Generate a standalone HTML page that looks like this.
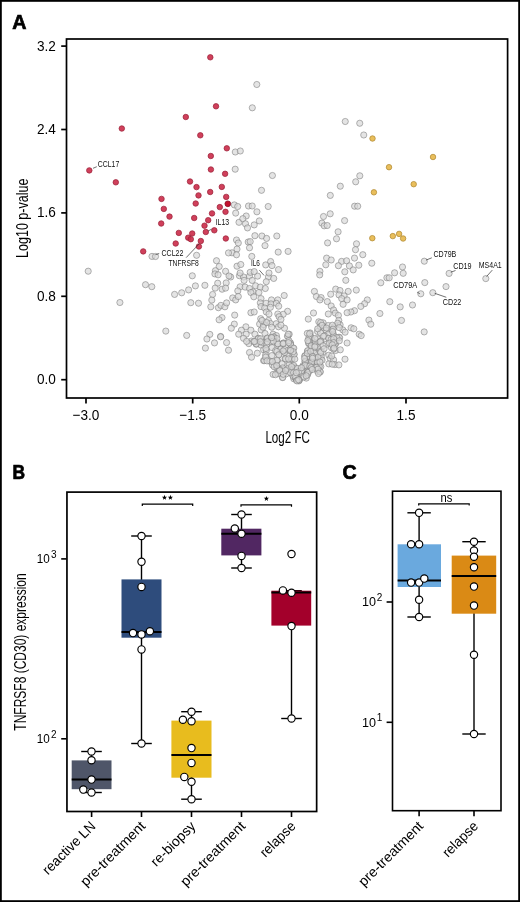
<!DOCTYPE html><html><head><meta charset="utf-8"><style>html,body{margin:0;padding:0;background:#fff}svg{display:block;will-change:transform}text{font-family:"Liberation Sans", sans-serif}</style></head><body>
<svg width="520" height="902" viewBox="0 0 520 902">
<rect x="0" y="0" width="520" height="902" fill="#fff"/>
<rect x="0.9" y="0.9" width="518.2" height="900.2" fill="none" stroke="#000" stroke-width="1.8"/>
<text x="12.2" y="28.8" font-size="19.5" font-weight="bold" fill="#000" stroke="#000" stroke-width="0.7" textLength="14.2" lengthAdjust="spacingAndGlyphs">A</text>
<g stroke-width="0.8">
<circle cx="256.8" cy="84.5" r="3.1" fill="#d8d8d8" stroke="#7a7a7a" fill-opacity="0.7" stroke-opacity="0.7"/>
<circle cx="252.3" cy="107.8" r="3.1" fill="#d8d8d8" stroke="#7a7a7a" fill-opacity="0.7" stroke-opacity="0.7"/>
<circle cx="235.3" cy="152" r="3.1" fill="#d8d8d8" stroke="#7a7a7a" fill-opacity="0.7" stroke-opacity="0.7"/>
<circle cx="240.3" cy="151" r="3.1" fill="#d8d8d8" stroke="#7a7a7a" fill-opacity="0.7" stroke-opacity="0.7"/>
<circle cx="345.25" cy="121.5" r="3.1" fill="#d8d8d8" stroke="#7a7a7a" fill-opacity="0.7" stroke-opacity="0.7"/>
<circle cx="359.75" cy="123.25" r="3.1" fill="#d8d8d8" stroke="#7a7a7a" fill-opacity="0.7" stroke-opacity="0.7"/>
<circle cx="363.75" cy="135" r="3.1" fill="#d8d8d8" stroke="#7a7a7a" fill-opacity="0.7" stroke-opacity="0.7"/>
<circle cx="152" cy="256.4" r="3.1" fill="#d8d8d8" stroke="#7a7a7a" fill-opacity="0.7" stroke-opacity="0.7"/>
<circle cx="155.5" cy="256.5" r="3.1" fill="#d8d8d8" stroke="#7a7a7a" fill-opacity="0.7" stroke-opacity="0.7"/>
<circle cx="235.2" cy="169.2" r="3.1" fill="#d8d8d8" stroke="#7a7a7a" fill-opacity="0.7" stroke-opacity="0.7"/>
<circle cx="234.3" cy="204.9" r="3.1" fill="#d8d8d8" stroke="#7a7a7a" fill-opacity="0.7" stroke-opacity="0.7"/>
<circle cx="237.7" cy="206.5" r="3.1" fill="#d8d8d8" stroke="#7a7a7a" fill-opacity="0.7" stroke-opacity="0.7"/>
<circle cx="235.7" cy="213.1" r="3.1" fill="#d8d8d8" stroke="#7a7a7a" fill-opacity="0.7" stroke-opacity="0.7"/>
<circle cx="239" cy="222.3" r="3.1" fill="#d8d8d8" stroke="#7a7a7a" fill-opacity="0.7" stroke-opacity="0.7"/>
<circle cx="236.5" cy="240" r="3.1" fill="#d8d8d8" stroke="#7a7a7a" fill-opacity="0.7" stroke-opacity="0.7"/>
<circle cx="196.6" cy="255.3" r="3.1" fill="#d8d8d8" stroke="#7a7a7a" fill-opacity="0.7" stroke-opacity="0.7"/>
<circle cx="216.5" cy="260.7" r="3.1" fill="#d8d8d8" stroke="#7a7a7a" fill-opacity="0.7" stroke-opacity="0.7"/>
<circle cx="219.2" cy="266.5" r="3.1" fill="#d8d8d8" stroke="#7a7a7a" fill-opacity="0.7" stroke-opacity="0.7"/>
<circle cx="215.4" cy="270.7" r="3.1" fill="#d8d8d8" stroke="#7a7a7a" fill-opacity="0.7" stroke-opacity="0.7"/>
<circle cx="214.9" cy="273.9" r="3.1" fill="#d8d8d8" stroke="#7a7a7a" fill-opacity="0.7" stroke-opacity="0.7"/>
<circle cx="192.3" cy="275.8" r="3.1" fill="#d8d8d8" stroke="#7a7a7a" fill-opacity="0.7" stroke-opacity="0.7"/>
<circle cx="217.7" cy="283.2" r="3.1" fill="#d8d8d8" stroke="#7a7a7a" fill-opacity="0.7" stroke-opacity="0.7"/>
<circle cx="145.5" cy="284.7" r="3.1" fill="#d8d8d8" stroke="#7a7a7a" fill-opacity="0.7" stroke-opacity="0.7"/>
<circle cx="151.8" cy="286.7" r="3.1" fill="#d8d8d8" stroke="#7a7a7a" fill-opacity="0.7" stroke-opacity="0.7"/>
<circle cx="204.9" cy="285.3" r="3.1" fill="#d8d8d8" stroke="#7a7a7a" fill-opacity="0.7" stroke-opacity="0.7"/>
<circle cx="195.4" cy="285.9" r="3.1" fill="#d8d8d8" stroke="#7a7a7a" fill-opacity="0.7" stroke-opacity="0.7"/>
<circle cx="215.2" cy="288.1" r="3.1" fill="#d8d8d8" stroke="#7a7a7a" fill-opacity="0.7" stroke-opacity="0.7"/>
<circle cx="188.6" cy="289.9" r="3.1" fill="#d8d8d8" stroke="#7a7a7a" fill-opacity="0.7" stroke-opacity="0.7"/>
<circle cx="181.7" cy="292.8" r="3.1" fill="#d8d8d8" stroke="#7a7a7a" fill-opacity="0.7" stroke-opacity="0.7"/>
<circle cx="174.6" cy="294.4" r="3.1" fill="#d8d8d8" stroke="#7a7a7a" fill-opacity="0.7" stroke-opacity="0.7"/>
<circle cx="212.6" cy="294.5" r="3.1" fill="#d8d8d8" stroke="#7a7a7a" fill-opacity="0.7" stroke-opacity="0.7"/>
<circle cx="211.8" cy="300.1" r="3.1" fill="#d8d8d8" stroke="#7a7a7a" fill-opacity="0.7" stroke-opacity="0.7"/>
<circle cx="190.8" cy="302.7" r="3.1" fill="#d8d8d8" stroke="#7a7a7a" fill-opacity="0.7" stroke-opacity="0.7"/>
<circle cx="198.5" cy="303.2" r="3.1" fill="#d8d8d8" stroke="#7a7a7a" fill-opacity="0.7" stroke-opacity="0.7"/>
<circle cx="272.4" cy="175.5" r="3.1" fill="#d8d8d8" stroke="#7a7a7a" fill-opacity="0.7" stroke-opacity="0.7"/>
<circle cx="261.5" cy="190.3" r="3.1" fill="#d8d8d8" stroke="#7a7a7a" fill-opacity="0.7" stroke-opacity="0.7"/>
<circle cx="248.5" cy="206" r="3.1" fill="#d8d8d8" stroke="#7a7a7a" fill-opacity="0.7" stroke-opacity="0.7"/>
<circle cx="252.2" cy="206" r="3.1" fill="#d8d8d8" stroke="#7a7a7a" fill-opacity="0.7" stroke-opacity="0.7"/>
<circle cx="268.2" cy="206.5" r="3.1" fill="#d8d8d8" stroke="#7a7a7a" fill-opacity="0.7" stroke-opacity="0.7"/>
<circle cx="256.9" cy="211.8" r="3.1" fill="#d8d8d8" stroke="#7a7a7a" fill-opacity="0.7" stroke-opacity="0.7"/>
<circle cx="359.8" cy="175.8" r="3.1" fill="#d8d8d8" stroke="#7a7a7a" fill-opacity="0.7" stroke-opacity="0.7"/>
<circle cx="355.7" cy="181.8" r="3.1" fill="#d8d8d8" stroke="#7a7a7a" fill-opacity="0.7" stroke-opacity="0.7"/>
<circle cx="340.3" cy="186.2" r="3.1" fill="#d8d8d8" stroke="#7a7a7a" fill-opacity="0.7" stroke-opacity="0.7"/>
<circle cx="330.3" cy="195.4" r="3.1" fill="#d8d8d8" stroke="#7a7a7a" fill-opacity="0.7" stroke-opacity="0.7"/>
<circle cx="354.6" cy="206.2" r="3.1" fill="#d8d8d8" stroke="#7a7a7a" fill-opacity="0.7" stroke-opacity="0.7"/>
<circle cx="357.7" cy="206.2" r="3.1" fill="#d8d8d8" stroke="#7a7a7a" fill-opacity="0.7" stroke-opacity="0.7"/>
<circle cx="330.2" cy="213.8" r="3.1" fill="#d8d8d8" stroke="#7a7a7a" fill-opacity="0.7" stroke-opacity="0.7"/>
<circle cx="323.5" cy="216.5" r="3.1" fill="#d8d8d8" stroke="#7a7a7a" fill-opacity="0.7" stroke-opacity="0.7"/>
<circle cx="344.6" cy="220.6" r="3.1" fill="#d8d8d8" stroke="#7a7a7a" fill-opacity="0.7" stroke-opacity="0.7"/>
<circle cx="362.8" cy="254.7" r="3.1" fill="#d8d8d8" stroke="#7a7a7a" fill-opacity="0.7" stroke-opacity="0.7"/>
<circle cx="371.8" cy="263.2" r="3.1" fill="#d8d8d8" stroke="#7a7a7a" fill-opacity="0.7" stroke-opacity="0.7"/>
<circle cx="424.3" cy="261.2" r="3.1" fill="#d8d8d8" stroke="#7a7a7a" fill-opacity="0.7" stroke-opacity="0.7"/>
<circle cx="402.5" cy="267" r="3.1" fill="#d8d8d8" stroke="#7a7a7a" fill-opacity="0.7" stroke-opacity="0.7"/>
<circle cx="394.6" cy="272.8" r="3.1" fill="#d8d8d8" stroke="#7a7a7a" fill-opacity="0.7" stroke-opacity="0.7"/>
<circle cx="403.2" cy="273.3" r="3.1" fill="#d8d8d8" stroke="#7a7a7a" fill-opacity="0.7" stroke-opacity="0.7"/>
<circle cx="386.9" cy="277.8" r="3.1" fill="#d8d8d8" stroke="#7a7a7a" fill-opacity="0.7" stroke-opacity="0.7"/>
<circle cx="389.2" cy="277.8" r="3.1" fill="#d8d8d8" stroke="#7a7a7a" fill-opacity="0.7" stroke-opacity="0.7"/>
<circle cx="380.8" cy="282.8" r="3.1" fill="#d8d8d8" stroke="#7a7a7a" fill-opacity="0.7" stroke-opacity="0.7"/>
<circle cx="424.8" cy="282.6" r="3.1" fill="#d8d8d8" stroke="#7a7a7a" fill-opacity="0.7" stroke-opacity="0.7"/>
<circle cx="420.8" cy="293.8" r="3.1" fill="#d8d8d8" stroke="#7a7a7a" fill-opacity="0.7" stroke-opacity="0.7"/>
<circle cx="432.8" cy="292.7" r="3.1" fill="#d8d8d8" stroke="#7a7a7a" fill-opacity="0.7" stroke-opacity="0.7"/>
<circle cx="449.1" cy="273.4" r="3.1" fill="#d8d8d8" stroke="#7a7a7a" fill-opacity="0.7" stroke-opacity="0.7"/>
<circle cx="485.8" cy="278.6" r="3.1" fill="#d8d8d8" stroke="#7a7a7a" fill-opacity="0.7" stroke-opacity="0.7"/>
<circle cx="446" cy="286.6" r="3.1" fill="#d8d8d8" stroke="#7a7a7a" fill-opacity="0.7" stroke-opacity="0.7"/>
<circle cx="389.8" cy="301.7" r="3.1" fill="#d8d8d8" stroke="#7a7a7a" fill-opacity="0.7" stroke-opacity="0.7"/>
<circle cx="400.2" cy="306.9" r="3.1" fill="#d8d8d8" stroke="#7a7a7a" fill-opacity="0.7" stroke-opacity="0.7"/>
<circle cx="412.5" cy="305" r="3.1" fill="#d8d8d8" stroke="#7a7a7a" fill-opacity="0.7" stroke-opacity="0.7"/>
<circle cx="321.9" cy="223.1" r="3.1" fill="#d8d8d8" stroke="#7a7a7a" fill-opacity="0.7" stroke-opacity="0.7"/>
<circle cx="324.2" cy="225.8" r="3.1" fill="#d8d8d8" stroke="#7a7a7a" fill-opacity="0.7" stroke-opacity="0.7"/>
<circle cx="327.2" cy="225.5" r="3.1" fill="#d8d8d8" stroke="#7a7a7a" fill-opacity="0.7" stroke-opacity="0.7"/>
<circle cx="338.1" cy="231.8" r="3.1" fill="#d8d8d8" stroke="#7a7a7a" fill-opacity="0.7" stroke-opacity="0.7"/>
<circle cx="336.5" cy="238.8" r="3.1" fill="#d8d8d8" stroke="#7a7a7a" fill-opacity="0.7" stroke-opacity="0.7"/>
<circle cx="327.6" cy="242.9" r="3.1" fill="#d8d8d8" stroke="#7a7a7a" fill-opacity="0.7" stroke-opacity="0.7"/>
<circle cx="356.5" cy="243.8" r="3.1" fill="#d8d8d8" stroke="#7a7a7a" fill-opacity="0.7" stroke-opacity="0.7"/>
<circle cx="355.5" cy="249.7" r="3.1" fill="#d8d8d8" stroke="#7a7a7a" fill-opacity="0.7" stroke-opacity="0.7"/>
<circle cx="354.5" cy="258.1" r="3.1" fill="#d8d8d8" stroke="#7a7a7a" fill-opacity="0.7" stroke-opacity="0.7"/>
<circle cx="326.6" cy="258.1" r="3.1" fill="#d8d8d8" stroke="#7a7a7a" fill-opacity="0.7" stroke-opacity="0.7"/>
<circle cx="331.2" cy="260" r="3.1" fill="#d8d8d8" stroke="#7a7a7a" fill-opacity="0.7" stroke-opacity="0.7"/>
<circle cx="341.6" cy="261.4" r="3.1" fill="#d8d8d8" stroke="#7a7a7a" fill-opacity="0.7" stroke-opacity="0.7"/>
<circle cx="346.6" cy="260.8" r="3.1" fill="#d8d8d8" stroke="#7a7a7a" fill-opacity="0.7" stroke-opacity="0.7"/>
<circle cx="325.8" cy="264.8" r="3.1" fill="#d8d8d8" stroke="#7a7a7a" fill-opacity="0.7" stroke-opacity="0.7"/>
<circle cx="338.4" cy="265.7" r="3.1" fill="#d8d8d8" stroke="#7a7a7a" fill-opacity="0.7" stroke-opacity="0.7"/>
<circle cx="349.4" cy="265.9" r="3.1" fill="#d8d8d8" stroke="#7a7a7a" fill-opacity="0.7" stroke-opacity="0.7"/>
<circle cx="358.8" cy="265.2" r="3.1" fill="#d8d8d8" stroke="#7a7a7a" fill-opacity="0.7" stroke-opacity="0.7"/>
<circle cx="353.2" cy="269.9" r="3.1" fill="#d8d8d8" stroke="#7a7a7a" fill-opacity="0.7" stroke-opacity="0.7"/>
<circle cx="344.8" cy="271.8" r="3.1" fill="#d8d8d8" stroke="#7a7a7a" fill-opacity="0.7" stroke-opacity="0.7"/>
<circle cx="319.9" cy="271.3" r="3.1" fill="#d8d8d8" stroke="#7a7a7a" fill-opacity="0.7" stroke-opacity="0.7"/>
<circle cx="319.7" cy="274.9" r="3.1" fill="#d8d8d8" stroke="#7a7a7a" fill-opacity="0.7" stroke-opacity="0.7"/>
<circle cx="345.8" cy="280.3" r="3.1" fill="#d8d8d8" stroke="#7a7a7a" fill-opacity="0.7" stroke-opacity="0.7"/>
<circle cx="314.4" cy="291.4" r="3.1" fill="#d8d8d8" stroke="#7a7a7a" fill-opacity="0.7" stroke-opacity="0.7"/>
<circle cx="335.7" cy="289.1" r="3.1" fill="#d8d8d8" stroke="#7a7a7a" fill-opacity="0.7" stroke-opacity="0.7"/>
<circle cx="340" cy="290.5" r="3.1" fill="#d8d8d8" stroke="#7a7a7a" fill-opacity="0.7" stroke-opacity="0.7"/>
<circle cx="348.2" cy="291.4" r="3.1" fill="#d8d8d8" stroke="#7a7a7a" fill-opacity="0.7" stroke-opacity="0.7"/>
<circle cx="356.3" cy="290.1" r="3.1" fill="#d8d8d8" stroke="#7a7a7a" fill-opacity="0.7" stroke-opacity="0.7"/>
<circle cx="330.7" cy="294.2" r="3.1" fill="#d8d8d8" stroke="#7a7a7a" fill-opacity="0.7" stroke-opacity="0.7"/>
<circle cx="339" cy="294.9" r="3.1" fill="#d8d8d8" stroke="#7a7a7a" fill-opacity="0.7" stroke-opacity="0.7"/>
<circle cx="344.1" cy="295.9" r="3.1" fill="#d8d8d8" stroke="#7a7a7a" fill-opacity="0.7" stroke-opacity="0.7"/>
<circle cx="316.4" cy="296.5" r="3.1" fill="#d8d8d8" stroke="#7a7a7a" fill-opacity="0.7" stroke-opacity="0.7"/>
<circle cx="321.1" cy="297.6" r="3.1" fill="#d8d8d8" stroke="#7a7a7a" fill-opacity="0.7" stroke-opacity="0.7"/>
<circle cx="319.9" cy="299.9" r="3.1" fill="#d8d8d8" stroke="#7a7a7a" fill-opacity="0.7" stroke-opacity="0.7"/>
<circle cx="341.7" cy="298.6" r="3.1" fill="#d8d8d8" stroke="#7a7a7a" fill-opacity="0.7" stroke-opacity="0.7"/>
<circle cx="347.1" cy="299.9" r="3.1" fill="#d8d8d8" stroke="#7a7a7a" fill-opacity="0.7" stroke-opacity="0.7"/>
<circle cx="367.3" cy="299.9" r="3.1" fill="#d8d8d8" stroke="#7a7a7a" fill-opacity="0.7" stroke-opacity="0.7"/>
<circle cx="364.6" cy="303.7" r="3.1" fill="#d8d8d8" stroke="#7a7a7a" fill-opacity="0.7" stroke-opacity="0.7"/>
<circle cx="360.8" cy="306.4" r="3.1" fill="#d8d8d8" stroke="#7a7a7a" fill-opacity="0.7" stroke-opacity="0.7"/>
<circle cx="327.3" cy="301.6" r="3.1" fill="#d8d8d8" stroke="#7a7a7a" fill-opacity="0.7" stroke-opacity="0.7"/>
<circle cx="343.1" cy="304.3" r="3.1" fill="#d8d8d8" stroke="#7a7a7a" fill-opacity="0.7" stroke-opacity="0.7"/>
<circle cx="331.2" cy="306" r="3.1" fill="#d8d8d8" stroke="#7a7a7a" fill-opacity="0.7" stroke-opacity="0.7"/>
<circle cx="333.6" cy="310" r="3.1" fill="#d8d8d8" stroke="#7a7a7a" fill-opacity="0.7" stroke-opacity="0.7"/>
<circle cx="354.5" cy="310.7" r="3.1" fill="#d8d8d8" stroke="#7a7a7a" fill-opacity="0.7" stroke-opacity="0.7"/>
<circle cx="350.9" cy="312" r="3.1" fill="#d8d8d8" stroke="#7a7a7a" fill-opacity="0.7" stroke-opacity="0.7"/>
<circle cx="347.1" cy="312.7" r="3.1" fill="#d8d8d8" stroke="#7a7a7a" fill-opacity="0.7" stroke-opacity="0.7"/>
<circle cx="313.5" cy="313" r="3.1" fill="#d8d8d8" stroke="#7a7a7a" fill-opacity="0.7" stroke-opacity="0.7"/>
<circle cx="328.3" cy="314" r="3.1" fill="#d8d8d8" stroke="#7a7a7a" fill-opacity="0.7" stroke-opacity="0.7"/>
<circle cx="335.3" cy="313.1" r="3.1" fill="#d8d8d8" stroke="#7a7a7a" fill-opacity="0.7" stroke-opacity="0.7"/>
<circle cx="338.4" cy="315.4" r="3.1" fill="#d8d8d8" stroke="#7a7a7a" fill-opacity="0.7" stroke-opacity="0.7"/>
<circle cx="308.3" cy="319.1" r="3.1" fill="#d8d8d8" stroke="#7a7a7a" fill-opacity="0.7" stroke-opacity="0.7"/>
<circle cx="338.8" cy="320.4" r="3.1" fill="#d8d8d8" stroke="#7a7a7a" fill-opacity="0.7" stroke-opacity="0.7"/>
<circle cx="368.9" cy="320.1" r="3.1" fill="#d8d8d8" stroke="#7a7a7a" fill-opacity="0.7" stroke-opacity="0.7"/>
<circle cx="318.8" cy="321.8" r="3.1" fill="#d8d8d8" stroke="#7a7a7a" fill-opacity="0.7" stroke-opacity="0.7"/>
<circle cx="323.1" cy="322.8" r="3.1" fill="#d8d8d8" stroke="#7a7a7a" fill-opacity="0.7" stroke-opacity="0.7"/>
<circle cx="340.1" cy="324.8" r="3.1" fill="#d8d8d8" stroke="#7a7a7a" fill-opacity="0.7" stroke-opacity="0.7"/>
<circle cx="328.3" cy="325.5" r="3.1" fill="#d8d8d8" stroke="#7a7a7a" fill-opacity="0.7" stroke-opacity="0.7"/>
<circle cx="334.7" cy="326.4" r="3.1" fill="#d8d8d8" stroke="#7a7a7a" fill-opacity="0.7" stroke-opacity="0.7"/>
<circle cx="320.2" cy="326.8" r="3.1" fill="#d8d8d8" stroke="#7a7a7a" fill-opacity="0.7" stroke-opacity="0.7"/>
<circle cx="324" cy="327.8" r="3.1" fill="#d8d8d8" stroke="#7a7a7a" fill-opacity="0.7" stroke-opacity="0.7"/>
<circle cx="351.1" cy="327.8" r="3.1" fill="#d8d8d8" stroke="#7a7a7a" fill-opacity="0.7" stroke-opacity="0.7"/>
<circle cx="353.8" cy="328.8" r="3.1" fill="#d8d8d8" stroke="#7a7a7a" fill-opacity="0.7" stroke-opacity="0.7"/>
<circle cx="342.8" cy="329.9" r="3.1" fill="#d8d8d8" stroke="#7a7a7a" fill-opacity="0.7" stroke-opacity="0.7"/>
<circle cx="331" cy="329.5" r="3.1" fill="#d8d8d8" stroke="#7a7a7a" fill-opacity="0.7" stroke-opacity="0.7"/>
<circle cx="326.2" cy="330.2" r="3.1" fill="#d8d8d8" stroke="#7a7a7a" fill-opacity="0.7" stroke-opacity="0.7"/>
<circle cx="317.5" cy="331.5" r="3.1" fill="#d8d8d8" stroke="#7a7a7a" fill-opacity="0.7" stroke-opacity="0.7"/>
<circle cx="320.5" cy="332.9" r="3.1" fill="#d8d8d8" stroke="#7a7a7a" fill-opacity="0.7" stroke-opacity="0.7"/>
<circle cx="345.1" cy="332.2" r="3.1" fill="#d8d8d8" stroke="#7a7a7a" fill-opacity="0.7" stroke-opacity="0.7"/>
<circle cx="310.1" cy="332.9" r="3.1" fill="#d8d8d8" stroke="#7a7a7a" fill-opacity="0.7" stroke-opacity="0.7"/>
<circle cx="359.2" cy="334.2" r="3.1" fill="#d8d8d8" stroke="#7a7a7a" fill-opacity="0.7" stroke-opacity="0.7"/>
<circle cx="361.2" cy="335.6" r="3.1" fill="#d8d8d8" stroke="#7a7a7a" fill-opacity="0.7" stroke-opacity="0.7"/>
<circle cx="333.4" cy="334.2" r="3.1" fill="#d8d8d8" stroke="#7a7a7a" fill-opacity="0.7" stroke-opacity="0.7"/>
<circle cx="328.3" cy="334.2" r="3.1" fill="#d8d8d8" stroke="#7a7a7a" fill-opacity="0.7" stroke-opacity="0.7"/>
<circle cx="324.5" cy="335.8" r="3.1" fill="#d8d8d8" stroke="#7a7a7a" fill-opacity="0.7" stroke-opacity="0.7"/>
<circle cx="310.8" cy="336.6" r="3.1" fill="#d8d8d8" stroke="#7a7a7a" fill-opacity="0.7" stroke-opacity="0.7"/>
<circle cx="339" cy="337.2" r="3.1" fill="#d8d8d8" stroke="#7a7a7a" fill-opacity="0.7" stroke-opacity="0.7"/>
<circle cx="328.5" cy="338.3" r="3.1" fill="#d8d8d8" stroke="#7a7a7a" fill-opacity="0.7" stroke-opacity="0.7"/>
<circle cx="308.7" cy="340.3" r="3.1" fill="#d8d8d8" stroke="#7a7a7a" fill-opacity="0.7" stroke-opacity="0.7"/>
<circle cx="320.9" cy="341" r="3.1" fill="#d8d8d8" stroke="#7a7a7a" fill-opacity="0.7" stroke-opacity="0.7"/>
<circle cx="347.1" cy="343" r="3.1" fill="#d8d8d8" stroke="#7a7a7a" fill-opacity="0.7" stroke-opacity="0.7"/>
<circle cx="332" cy="342.3" r="3.1" fill="#d8d8d8" stroke="#7a7a7a" fill-opacity="0.7" stroke-opacity="0.7"/>
<circle cx="313.5" cy="343" r="3.1" fill="#d8d8d8" stroke="#7a7a7a" fill-opacity="0.7" stroke-opacity="0.7"/>
<circle cx="335.7" cy="343.6" r="3.1" fill="#d8d8d8" stroke="#7a7a7a" fill-opacity="0.7" stroke-opacity="0.7"/>
<circle cx="239.4" cy="275.7" r="3.1" fill="#d8d8d8" stroke="#7a7a7a" fill-opacity="0.7" stroke-opacity="0.7"/>
<circle cx="243.5" cy="277" r="3.1" fill="#d8d8d8" stroke="#7a7a7a" fill-opacity="0.7" stroke-opacity="0.7"/>
<circle cx="249.5" cy="276.1" r="3.1" fill="#d8d8d8" stroke="#7a7a7a" fill-opacity="0.7" stroke-opacity="0.7"/>
<circle cx="257.6" cy="276.1" r="3.1" fill="#d8d8d8" stroke="#7a7a7a" fill-opacity="0.7" stroke-opacity="0.7"/>
<circle cx="252.2" cy="280.4" r="3.1" fill="#d8d8d8" stroke="#7a7a7a" fill-opacity="0.7" stroke-opacity="0.7"/>
<circle cx="268.4" cy="277" r="3.1" fill="#d8d8d8" stroke="#7a7a7a" fill-opacity="0.7" stroke-opacity="0.7"/>
<circle cx="273.7" cy="278.4" r="3.1" fill="#d8d8d8" stroke="#7a7a7a" fill-opacity="0.7" stroke-opacity="0.7"/>
<circle cx="266.3" cy="281.7" r="3.1" fill="#d8d8d8" stroke="#7a7a7a" fill-opacity="0.7" stroke-opacity="0.7"/>
<circle cx="244.1" cy="280.4" r="3.1" fill="#d8d8d8" stroke="#7a7a7a" fill-opacity="0.7" stroke-opacity="0.7"/>
<circle cx="230.7" cy="277" r="3.1" fill="#d8d8d8" stroke="#7a7a7a" fill-opacity="0.7" stroke-opacity="0.7"/>
<circle cx="240.1" cy="286.8" r="3.1" fill="#d8d8d8" stroke="#7a7a7a" fill-opacity="0.7" stroke-opacity="0.7"/>
<circle cx="237.8" cy="290.9" r="3.1" fill="#d8d8d8" stroke="#7a7a7a" fill-opacity="0.7" stroke-opacity="0.7"/>
<circle cx="245.1" cy="287.1" r="3.1" fill="#d8d8d8" stroke="#7a7a7a" fill-opacity="0.7" stroke-opacity="0.7"/>
<circle cx="249.5" cy="288.5" r="3.1" fill="#d8d8d8" stroke="#7a7a7a" fill-opacity="0.7" stroke-opacity="0.7"/>
<circle cx="255.6" cy="285.8" r="3.1" fill="#d8d8d8" stroke="#7a7a7a" fill-opacity="0.7" stroke-opacity="0.7"/>
<circle cx="260.3" cy="287.1" r="3.1" fill="#d8d8d8" stroke="#7a7a7a" fill-opacity="0.7" stroke-opacity="0.7"/>
<circle cx="265.3" cy="288.5" r="3.1" fill="#d8d8d8" stroke="#7a7a7a" fill-opacity="0.7" stroke-opacity="0.7"/>
<circle cx="252.9" cy="291.8" r="3.1" fill="#d8d8d8" stroke="#7a7a7a" fill-opacity="0.7" stroke-opacity="0.7"/>
<circle cx="250.9" cy="292.5" r="3.1" fill="#d8d8d8" stroke="#7a7a7a" fill-opacity="0.7" stroke-opacity="0.7"/>
<circle cx="258.9" cy="292.5" r="3.1" fill="#d8d8d8" stroke="#7a7a7a" fill-opacity="0.7" stroke-opacity="0.7"/>
<circle cx="284.2" cy="295.5" r="3.1" fill="#d8d8d8" stroke="#7a7a7a" fill-opacity="0.7" stroke-opacity="0.7"/>
<circle cx="232.7" cy="297.9" r="3.1" fill="#d8d8d8" stroke="#7a7a7a" fill-opacity="0.7" stroke-opacity="0.7"/>
<circle cx="235.7" cy="299.9" r="3.1" fill="#d8d8d8" stroke="#7a7a7a" fill-opacity="0.7" stroke-opacity="0.7"/>
<circle cx="238.3" cy="296.5" r="3.1" fill="#d8d8d8" stroke="#7a7a7a" fill-opacity="0.7" stroke-opacity="0.7"/>
<circle cx="253.8" cy="296.8" r="3.1" fill="#d8d8d8" stroke="#7a7a7a" fill-opacity="0.7" stroke-opacity="0.7"/>
<circle cx="261" cy="298.6" r="3.1" fill="#d8d8d8" stroke="#7a7a7a" fill-opacity="0.7" stroke-opacity="0.7"/>
<circle cx="271.5" cy="299.9" r="3.1" fill="#d8d8d8" stroke="#7a7a7a" fill-opacity="0.7" stroke-opacity="0.7"/>
<circle cx="277.8" cy="299.9" r="3.1" fill="#d8d8d8" stroke="#7a7a7a" fill-opacity="0.7" stroke-opacity="0.7"/>
<circle cx="260.3" cy="302.9" r="3.1" fill="#d8d8d8" stroke="#7a7a7a" fill-opacity="0.7" stroke-opacity="0.7"/>
<circle cx="266.1" cy="303.3" r="3.1" fill="#d8d8d8" stroke="#7a7a7a" fill-opacity="0.7" stroke-opacity="0.7"/>
<circle cx="271" cy="303.9" r="3.1" fill="#d8d8d8" stroke="#7a7a7a" fill-opacity="0.7" stroke-opacity="0.7"/>
<circle cx="276.4" cy="303.3" r="3.1" fill="#d8d8d8" stroke="#7a7a7a" fill-opacity="0.7" stroke-opacity="0.7"/>
<circle cx="278.7" cy="306.2" r="3.1" fill="#d8d8d8" stroke="#7a7a7a" fill-opacity="0.7" stroke-opacity="0.7"/>
<circle cx="261" cy="306.6" r="3.1" fill="#d8d8d8" stroke="#7a7a7a" fill-opacity="0.7" stroke-opacity="0.7"/>
<circle cx="264.7" cy="308" r="3.1" fill="#d8d8d8" stroke="#7a7a7a" fill-opacity="0.7" stroke-opacity="0.7"/>
<circle cx="270.4" cy="307.3" r="3.1" fill="#d8d8d8" stroke="#7a7a7a" fill-opacity="0.7" stroke-opacity="0.7"/>
<circle cx="287.6" cy="311.3" r="3.1" fill="#d8d8d8" stroke="#7a7a7a" fill-opacity="0.7" stroke-opacity="0.7"/>
<circle cx="283.2" cy="314.3" r="3.1" fill="#d8d8d8" stroke="#7a7a7a" fill-opacity="0.7" stroke-opacity="0.7"/>
<circle cx="250.9" cy="312.7" r="3.1" fill="#d8d8d8" stroke="#7a7a7a" fill-opacity="0.7" stroke-opacity="0.7"/>
<circle cx="254.2" cy="312" r="3.1" fill="#d8d8d8" stroke="#7a7a7a" fill-opacity="0.7" stroke-opacity="0.7"/>
<circle cx="266.3" cy="312" r="3.1" fill="#d8d8d8" stroke="#7a7a7a" fill-opacity="0.7" stroke-opacity="0.7"/>
<circle cx="269" cy="314" r="3.1" fill="#d8d8d8" stroke="#7a7a7a" fill-opacity="0.7" stroke-opacity="0.7"/>
<circle cx="234.7" cy="315.1" r="3.1" fill="#d8d8d8" stroke="#7a7a7a" fill-opacity="0.7" stroke-opacity="0.7"/>
<circle cx="277.8" cy="314" r="3.1" fill="#d8d8d8" stroke="#7a7a7a" fill-opacity="0.7" stroke-opacity="0.7"/>
<circle cx="279.1" cy="316.7" r="3.1" fill="#d8d8d8" stroke="#7a7a7a" fill-opacity="0.7" stroke-opacity="0.7"/>
<circle cx="280.9" cy="319.4" r="3.1" fill="#d8d8d8" stroke="#7a7a7a" fill-opacity="0.7" stroke-opacity="0.7"/>
<circle cx="260.7" cy="318.7" r="3.1" fill="#d8d8d8" stroke="#7a7a7a" fill-opacity="0.7" stroke-opacity="0.7"/>
<circle cx="268.4" cy="320.5" r="3.1" fill="#d8d8d8" stroke="#7a7a7a" fill-opacity="0.7" stroke-opacity="0.7"/>
<circle cx="234.3" cy="324.1" r="3.1" fill="#d8d8d8" stroke="#7a7a7a" fill-opacity="0.7" stroke-opacity="0.7"/>
<circle cx="259.6" cy="324.1" r="3.1" fill="#d8d8d8" stroke="#7a7a7a" fill-opacity="0.7" stroke-opacity="0.7"/>
<circle cx="263.6" cy="324.8" r="3.1" fill="#d8d8d8" stroke="#7a7a7a" fill-opacity="0.7" stroke-opacity="0.7"/>
<circle cx="270.4" cy="323.5" r="3.1" fill="#d8d8d8" stroke="#7a7a7a" fill-opacity="0.7" stroke-opacity="0.7"/>
<circle cx="276.2" cy="323.7" r="3.1" fill="#d8d8d8" stroke="#7a7a7a" fill-opacity="0.7" stroke-opacity="0.7"/>
<circle cx="271.7" cy="327.2" r="3.1" fill="#d8d8d8" stroke="#7a7a7a" fill-opacity="0.7" stroke-opacity="0.7"/>
<circle cx="278.5" cy="326.8" r="3.1" fill="#d8d8d8" stroke="#7a7a7a" fill-opacity="0.7" stroke-opacity="0.7"/>
<circle cx="284.5" cy="328.2" r="3.1" fill="#d8d8d8" stroke="#7a7a7a" fill-opacity="0.7" stroke-opacity="0.7"/>
<circle cx="245.9" cy="326.8" r="3.1" fill="#d8d8d8" stroke="#7a7a7a" fill-opacity="0.7" stroke-opacity="0.7"/>
<circle cx="231.3" cy="328.2" r="3.1" fill="#d8d8d8" stroke="#7a7a7a" fill-opacity="0.7" stroke-opacity="0.7"/>
<circle cx="250.9" cy="330.2" r="3.1" fill="#d8d8d8" stroke="#7a7a7a" fill-opacity="0.7" stroke-opacity="0.7"/>
<circle cx="241.4" cy="330.2" r="3.1" fill="#d8d8d8" stroke="#7a7a7a" fill-opacity="0.7" stroke-opacity="0.7"/>
<circle cx="261.2" cy="329.9" r="3.1" fill="#d8d8d8" stroke="#7a7a7a" fill-opacity="0.7" stroke-opacity="0.7"/>
<circle cx="238.7" cy="334.2" r="3.1" fill="#d8d8d8" stroke="#7a7a7a" fill-opacity="0.7" stroke-opacity="0.7"/>
<circle cx="246.2" cy="334.2" r="3.1" fill="#d8d8d8" stroke="#7a7a7a" fill-opacity="0.7" stroke-opacity="0.7"/>
<circle cx="254.9" cy="334.2" r="3.1" fill="#d8d8d8" stroke="#7a7a7a" fill-opacity="0.7" stroke-opacity="0.7"/>
<circle cx="265" cy="333.5" r="3.1" fill="#d8d8d8" stroke="#7a7a7a" fill-opacity="0.7" stroke-opacity="0.7"/>
<circle cx="273.1" cy="334.2" r="3.1" fill="#d8d8d8" stroke="#7a7a7a" fill-opacity="0.7" stroke-opacity="0.7"/>
<circle cx="276.4" cy="335.6" r="3.1" fill="#d8d8d8" stroke="#7a7a7a" fill-opacity="0.7" stroke-opacity="0.7"/>
<circle cx="287.9" cy="336.2" r="3.1" fill="#d8d8d8" stroke="#7a7a7a" fill-opacity="0.7" stroke-opacity="0.7"/>
<circle cx="289.2" cy="334.2" r="3.1" fill="#d8d8d8" stroke="#7a7a7a" fill-opacity="0.7" stroke-opacity="0.7"/>
<circle cx="243.5" cy="338.3" r="3.1" fill="#d8d8d8" stroke="#7a7a7a" fill-opacity="0.7" stroke-opacity="0.7"/>
<circle cx="258.3" cy="338.3" r="3.1" fill="#d8d8d8" stroke="#7a7a7a" fill-opacity="0.7" stroke-opacity="0.7"/>
<circle cx="267" cy="338.3" r="3.1" fill="#d8d8d8" stroke="#7a7a7a" fill-opacity="0.7" stroke-opacity="0.7"/>
<circle cx="273.7" cy="337.6" r="3.1" fill="#d8d8d8" stroke="#7a7a7a" fill-opacity="0.7" stroke-opacity="0.7"/>
<circle cx="251.5" cy="341" r="3.1" fill="#d8d8d8" stroke="#7a7a7a" fill-opacity="0.7" stroke-opacity="0.7"/>
<circle cx="261.6" cy="341.6" r="3.1" fill="#d8d8d8" stroke="#7a7a7a" fill-opacity="0.7" stroke-opacity="0.7"/>
<circle cx="270.4" cy="342.3" r="3.1" fill="#d8d8d8" stroke="#7a7a7a" fill-opacity="0.7" stroke-opacity="0.7"/>
<circle cx="277.1" cy="342.3" r="3.1" fill="#d8d8d8" stroke="#7a7a7a" fill-opacity="0.7" stroke-opacity="0.7"/>
<circle cx="248.8" cy="343.6" r="3.1" fill="#d8d8d8" stroke="#7a7a7a" fill-opacity="0.7" stroke-opacity="0.7"/>
<circle cx="283.8" cy="343" r="3.1" fill="#d8d8d8" stroke="#7a7a7a" fill-opacity="0.7" stroke-opacity="0.7"/>
<circle cx="290.6" cy="343" r="3.1" fill="#d8d8d8" stroke="#7a7a7a" fill-opacity="0.7" stroke-opacity="0.7"/>
<circle cx="246.2" cy="216" r="3.1" fill="#d8d8d8" stroke="#7a7a7a" fill-opacity="0.7" stroke-opacity="0.7"/>
<circle cx="242.8" cy="218.7" r="3.1" fill="#d8d8d8" stroke="#7a7a7a" fill-opacity="0.7" stroke-opacity="0.7"/>
<circle cx="245.5" cy="223.8" r="3.1" fill="#d8d8d8" stroke="#7a7a7a" fill-opacity="0.7" stroke-opacity="0.7"/>
<circle cx="247.5" cy="227.9" r="3.1" fill="#d8d8d8" stroke="#7a7a7a" fill-opacity="0.7" stroke-opacity="0.7"/>
<circle cx="259.3" cy="220.9" r="3.1" fill="#d8d8d8" stroke="#7a7a7a" fill-opacity="0.7" stroke-opacity="0.7"/>
<circle cx="254.2" cy="224.9" r="3.1" fill="#d8d8d8" stroke="#7a7a7a" fill-opacity="0.7" stroke-opacity="0.7"/>
<circle cx="254.9" cy="235.7" r="3.1" fill="#d8d8d8" stroke="#7a7a7a" fill-opacity="0.7" stroke-opacity="0.7"/>
<circle cx="261.9" cy="236" r="3.1" fill="#d8d8d8" stroke="#7a7a7a" fill-opacity="0.7" stroke-opacity="0.7"/>
<circle cx="266.6" cy="238.4" r="3.1" fill="#d8d8d8" stroke="#7a7a7a" fill-opacity="0.7" stroke-opacity="0.7"/>
<circle cx="276.8" cy="236" r="3.1" fill="#d8d8d8" stroke="#7a7a7a" fill-opacity="0.7" stroke-opacity="0.7"/>
<circle cx="238.3" cy="243" r="3.1" fill="#d8d8d8" stroke="#7a7a7a" fill-opacity="0.7" stroke-opacity="0.7"/>
<circle cx="248.2" cy="242" r="3.1" fill="#d8d8d8" stroke="#7a7a7a" fill-opacity="0.7" stroke-opacity="0.7"/>
<circle cx="250.2" cy="241.6" r="3.1" fill="#d8d8d8" stroke="#7a7a7a" fill-opacity="0.7" stroke-opacity="0.7"/>
<circle cx="249.5" cy="247.8" r="3.1" fill="#d8d8d8" stroke="#7a7a7a" fill-opacity="0.7" stroke-opacity="0.7"/>
<circle cx="265" cy="245.6" r="3.1" fill="#d8d8d8" stroke="#7a7a7a" fill-opacity="0.7" stroke-opacity="0.7"/>
<circle cx="237" cy="249.1" r="3.1" fill="#d8d8d8" stroke="#7a7a7a" fill-opacity="0.7" stroke-opacity="0.7"/>
<circle cx="232" cy="252.8" r="3.1" fill="#d8d8d8" stroke="#7a7a7a" fill-opacity="0.7" stroke-opacity="0.7"/>
<circle cx="236.5" cy="254.8" r="3.1" fill="#d8d8d8" stroke="#7a7a7a" fill-opacity="0.7" stroke-opacity="0.7"/>
<circle cx="278.2" cy="252.1" r="3.1" fill="#d8d8d8" stroke="#7a7a7a" fill-opacity="0.7" stroke-opacity="0.7"/>
<circle cx="288.1" cy="251.4" r="3.1" fill="#d8d8d8" stroke="#7a7a7a" fill-opacity="0.7" stroke-opacity="0.7"/>
<circle cx="251.8" cy="256.4" r="3.1" fill="#d8d8d8" stroke="#7a7a7a" fill-opacity="0.7" stroke-opacity="0.7"/>
<circle cx="237" cy="266.2" r="3.1" fill="#d8d8d8" stroke="#7a7a7a" fill-opacity="0.7" stroke-opacity="0.7"/>
<circle cx="240.8" cy="264.5" r="3.1" fill="#d8d8d8" stroke="#7a7a7a" fill-opacity="0.7" stroke-opacity="0.7"/>
<circle cx="265.7" cy="264.9" r="3.1" fill="#d8d8d8" stroke="#7a7a7a" fill-opacity="0.7" stroke-opacity="0.7"/>
<circle cx="270.6" cy="261.5" r="3.1" fill="#d8d8d8" stroke="#7a7a7a" fill-opacity="0.7" stroke-opacity="0.7"/>
<circle cx="272" cy="265.6" r="3.1" fill="#d8d8d8" stroke="#7a7a7a" fill-opacity="0.7" stroke-opacity="0.7"/>
<circle cx="278.5" cy="269.6" r="3.1" fill="#d8d8d8" stroke="#7a7a7a" fill-opacity="0.7" stroke-opacity="0.7"/>
<circle cx="240.1" cy="273" r="3.1" fill="#d8d8d8" stroke="#7a7a7a" fill-opacity="0.7" stroke-opacity="0.7"/>
<circle cx="250.2" cy="272.3" r="3.1" fill="#d8d8d8" stroke="#7a7a7a" fill-opacity="0.7" stroke-opacity="0.7"/>
<circle cx="254.2" cy="271.6" r="3.1" fill="#d8d8d8" stroke="#7a7a7a" fill-opacity="0.7" stroke-opacity="0.7"/>
<circle cx="269" cy="273" r="3.1" fill="#d8d8d8" stroke="#7a7a7a" fill-opacity="0.7" stroke-opacity="0.7"/>
<circle cx="210.8" cy="306.8" r="3.1" fill="#d8d8d8" stroke="#7a7a7a" fill-opacity="0.7" stroke-opacity="0.7"/>
<circle cx="218.4" cy="307.7" r="3.1" fill="#d8d8d8" stroke="#7a7a7a" fill-opacity="0.7" stroke-opacity="0.7"/>
<circle cx="220.9" cy="305.4" r="3.1" fill="#d8d8d8" stroke="#7a7a7a" fill-opacity="0.7" stroke-opacity="0.7"/>
<circle cx="224.9" cy="306.8" r="3.1" fill="#d8d8d8" stroke="#7a7a7a" fill-opacity="0.7" stroke-opacity="0.7"/>
<circle cx="226.6" cy="302.9" r="3.1" fill="#d8d8d8" stroke="#7a7a7a" fill-opacity="0.7" stroke-opacity="0.7"/>
<circle cx="222" cy="317.6" r="3.1" fill="#d8d8d8" stroke="#7a7a7a" fill-opacity="0.7" stroke-opacity="0.7"/>
<circle cx="219.1" cy="319.8" r="3.1" fill="#d8d8d8" stroke="#7a7a7a" fill-opacity="0.7" stroke-opacity="0.7"/>
<circle cx="165.8" cy="331.1" r="3.1" fill="#d8d8d8" stroke="#7a7a7a" fill-opacity="0.7" stroke-opacity="0.7"/>
<circle cx="186.7" cy="335.4" r="3.1" fill="#d8d8d8" stroke="#7a7a7a" fill-opacity="0.7" stroke-opacity="0.7"/>
<circle cx="209.8" cy="334.4" r="3.1" fill="#d8d8d8" stroke="#7a7a7a" fill-opacity="0.7" stroke-opacity="0.7"/>
<circle cx="206.9" cy="339" r="3.1" fill="#d8d8d8" stroke="#7a7a7a" fill-opacity="0.7" stroke-opacity="0.7"/>
<circle cx="220.6" cy="336.5" r="3.1" fill="#d8d8d8" stroke="#7a7a7a" fill-opacity="0.7" stroke-opacity="0.7"/>
<circle cx="220.6" cy="336.8" r="3.1" fill="#d8d8d8" stroke="#7a7a7a" fill-opacity="0.7" stroke-opacity="0.7"/>
<circle cx="214.5" cy="342.9" r="3.1" fill="#d8d8d8" stroke="#7a7a7a" fill-opacity="0.7" stroke-opacity="0.7"/>
<circle cx="226.6" cy="342.6" r="3.1" fill="#d8d8d8" stroke="#7a7a7a" fill-opacity="0.7" stroke-opacity="0.7"/>
<circle cx="205.4" cy="348.1" r="3.1" fill="#d8d8d8" stroke="#7a7a7a" fill-opacity="0.7" stroke-opacity="0.7"/>
<circle cx="228.5" cy="350.2" r="3.1" fill="#d8d8d8" stroke="#7a7a7a" fill-opacity="0.7" stroke-opacity="0.7"/>
<circle cx="88.2" cy="271.2" r="3.1" fill="#d8d8d8" stroke="#7a7a7a" fill-opacity="0.7" stroke-opacity="0.7"/>
<circle cx="119.9" cy="302.5" r="3.1" fill="#d8d8d8" stroke="#7a7a7a" fill-opacity="0.7" stroke-opacity="0.7"/>
<circle cx="256.2" cy="344.2" r="3.1" fill="#d8d8d8" stroke="#7a7a7a" fill-opacity="0.7" stroke-opacity="0.7"/>
<circle cx="261" cy="345.1" r="3.1" fill="#d8d8d8" stroke="#7a7a7a" fill-opacity="0.7" stroke-opacity="0.7"/>
<circle cx="249.5" cy="352.5" r="3.1" fill="#d8d8d8" stroke="#7a7a7a" fill-opacity="0.7" stroke-opacity="0.7"/>
<circle cx="251.5" cy="357.2" r="3.1" fill="#d8d8d8" stroke="#7a7a7a" fill-opacity="0.7" stroke-opacity="0.7"/>
<circle cx="257.3" cy="353.2" r="3.1" fill="#d8d8d8" stroke="#7a7a7a" fill-opacity="0.7" stroke-opacity="0.7"/>
<circle cx="263.6" cy="360.6" r="3.1" fill="#d8d8d8" stroke="#7a7a7a" fill-opacity="0.7" stroke-opacity="0.7"/>
<circle cx="263.6" cy="349.8" r="3.1" fill="#d8d8d8" stroke="#7a7a7a" fill-opacity="0.7" stroke-opacity="0.7"/>
<circle cx="258.1" cy="338.8" r="3.1" fill="#d8d8d8" stroke="#7a7a7a" fill-opacity="0.7" stroke-opacity="0.7"/>
<circle cx="267.5" cy="338.1" r="3.1" fill="#d8d8d8" stroke="#7a7a7a" fill-opacity="0.7" stroke-opacity="0.7"/>
<circle cx="273.8" cy="336.9" r="3.1" fill="#d8d8d8" stroke="#7a7a7a" fill-opacity="0.7" stroke-opacity="0.7"/>
<circle cx="287.5" cy="336.3" r="3.1" fill="#d8d8d8" stroke="#7a7a7a" fill-opacity="0.7" stroke-opacity="0.7"/>
<circle cx="310" cy="336.3" r="3.1" fill="#d8d8d8" stroke="#7a7a7a" fill-opacity="0.7" stroke-opacity="0.7"/>
<circle cx="317.5" cy="338.8" r="3.1" fill="#d8d8d8" stroke="#7a7a7a" fill-opacity="0.7" stroke-opacity="0.7"/>
<circle cx="256.3" cy="343.8" r="3.1" fill="#d8d8d8" stroke="#7a7a7a" fill-opacity="0.7" stroke-opacity="0.7"/>
<circle cx="262.5" cy="342.5" r="3.1" fill="#d8d8d8" stroke="#7a7a7a" fill-opacity="0.7" stroke-opacity="0.7"/>
<circle cx="266.9" cy="344.4" r="3.1" fill="#d8d8d8" stroke="#7a7a7a" fill-opacity="0.7" stroke-opacity="0.7"/>
<circle cx="271.9" cy="347.5" r="3.1" fill="#d8d8d8" stroke="#7a7a7a" fill-opacity="0.7" stroke-opacity="0.7"/>
<circle cx="277.5" cy="343.8" r="3.1" fill="#d8d8d8" stroke="#7a7a7a" fill-opacity="0.7" stroke-opacity="0.7"/>
<circle cx="283.1" cy="343.1" r="3.1" fill="#d8d8d8" stroke="#7a7a7a" fill-opacity="0.7" stroke-opacity="0.7"/>
<circle cx="290.6" cy="344.4" r="3.1" fill="#d8d8d8" stroke="#7a7a7a" fill-opacity="0.7" stroke-opacity="0.7"/>
<circle cx="293.1" cy="348.1" r="3.1" fill="#d8d8d8" stroke="#7a7a7a" fill-opacity="0.7" stroke-opacity="0.7"/>
<circle cx="308.8" cy="343.8" r="3.1" fill="#d8d8d8" stroke="#7a7a7a" fill-opacity="0.7" stroke-opacity="0.7"/>
<circle cx="313.8" cy="346.3" r="3.1" fill="#d8d8d8" stroke="#7a7a7a" fill-opacity="0.7" stroke-opacity="0.7"/>
<circle cx="316.3" cy="348.8" r="3.1" fill="#d8d8d8" stroke="#7a7a7a" fill-opacity="0.7" stroke-opacity="0.7"/>
<circle cx="266.3" cy="350.6" r="3.1" fill="#d8d8d8" stroke="#7a7a7a" fill-opacity="0.7" stroke-opacity="0.7"/>
<circle cx="275.6" cy="350.6" r="3.1" fill="#d8d8d8" stroke="#7a7a7a" fill-opacity="0.7" stroke-opacity="0.7"/>
<circle cx="281.3" cy="348.8" r="3.1" fill="#d8d8d8" stroke="#7a7a7a" fill-opacity="0.7" stroke-opacity="0.7"/>
<circle cx="287.5" cy="350.6" r="3.1" fill="#d8d8d8" stroke="#7a7a7a" fill-opacity="0.7" stroke-opacity="0.7"/>
<circle cx="307.5" cy="351.3" r="3.1" fill="#d8d8d8" stroke="#7a7a7a" fill-opacity="0.7" stroke-opacity="0.7"/>
<circle cx="312.5" cy="351.3" r="3.1" fill="#d8d8d8" stroke="#7a7a7a" fill-opacity="0.7" stroke-opacity="0.7"/>
<circle cx="265.6" cy="355" r="3.1" fill="#d8d8d8" stroke="#7a7a7a" fill-opacity="0.7" stroke-opacity="0.7"/>
<circle cx="271.9" cy="355.6" r="3.1" fill="#d8d8d8" stroke="#7a7a7a" fill-opacity="0.7" stroke-opacity="0.7"/>
<circle cx="278.8" cy="354.4" r="3.1" fill="#d8d8d8" stroke="#7a7a7a" fill-opacity="0.7" stroke-opacity="0.7"/>
<circle cx="286.9" cy="355" r="3.1" fill="#d8d8d8" stroke="#7a7a7a" fill-opacity="0.7" stroke-opacity="0.7"/>
<circle cx="293.8" cy="354.4" r="3.1" fill="#d8d8d8" stroke="#7a7a7a" fill-opacity="0.7" stroke-opacity="0.7"/>
<circle cx="305" cy="355.6" r="3.1" fill="#d8d8d8" stroke="#7a7a7a" fill-opacity="0.7" stroke-opacity="0.7"/>
<circle cx="310" cy="356.9" r="3.1" fill="#d8d8d8" stroke="#7a7a7a" fill-opacity="0.7" stroke-opacity="0.7"/>
<circle cx="315" cy="357.5" r="3.1" fill="#d8d8d8" stroke="#7a7a7a" fill-opacity="0.7" stroke-opacity="0.7"/>
<circle cx="264.4" cy="360.6" r="3.1" fill="#d8d8d8" stroke="#7a7a7a" fill-opacity="0.7" stroke-opacity="0.7"/>
<circle cx="270" cy="361.3" r="3.1" fill="#d8d8d8" stroke="#7a7a7a" fill-opacity="0.7" stroke-opacity="0.7"/>
<circle cx="277.5" cy="360.6" r="3.1" fill="#d8d8d8" stroke="#7a7a7a" fill-opacity="0.7" stroke-opacity="0.7"/>
<circle cx="285" cy="358.8" r="3.1" fill="#d8d8d8" stroke="#7a7a7a" fill-opacity="0.7" stroke-opacity="0.7"/>
<circle cx="291.9" cy="359.4" r="3.1" fill="#d8d8d8" stroke="#7a7a7a" fill-opacity="0.7" stroke-opacity="0.7"/>
<circle cx="305" cy="361.3" r="3.1" fill="#d8d8d8" stroke="#7a7a7a" fill-opacity="0.7" stroke-opacity="0.7"/>
<circle cx="311.9" cy="360" r="3.1" fill="#d8d8d8" stroke="#7a7a7a" fill-opacity="0.7" stroke-opacity="0.7"/>
<circle cx="318.1" cy="361.9" r="3.1" fill="#d8d8d8" stroke="#7a7a7a" fill-opacity="0.7" stroke-opacity="0.7"/>
<circle cx="272.5" cy="365" r="3.1" fill="#d8d8d8" stroke="#7a7a7a" fill-opacity="0.7" stroke-opacity="0.7"/>
<circle cx="281.9" cy="363.8" r="3.1" fill="#d8d8d8" stroke="#7a7a7a" fill-opacity="0.7" stroke-opacity="0.7"/>
<circle cx="288.8" cy="363.1" r="3.1" fill="#d8d8d8" stroke="#7a7a7a" fill-opacity="0.7" stroke-opacity="0.7"/>
<circle cx="293.8" cy="365.6" r="3.1" fill="#d8d8d8" stroke="#7a7a7a" fill-opacity="0.7" stroke-opacity="0.7"/>
<circle cx="303.1" cy="365.6" r="3.1" fill="#d8d8d8" stroke="#7a7a7a" fill-opacity="0.7" stroke-opacity="0.7"/>
<circle cx="308.8" cy="364.4" r="3.1" fill="#d8d8d8" stroke="#7a7a7a" fill-opacity="0.7" stroke-opacity="0.7"/>
<circle cx="313.8" cy="366.3" r="3.1" fill="#d8d8d8" stroke="#7a7a7a" fill-opacity="0.7" stroke-opacity="0.7"/>
<circle cx="276.9" cy="368.1" r="3.1" fill="#d8d8d8" stroke="#7a7a7a" fill-opacity="0.7" stroke-opacity="0.7"/>
<circle cx="282.5" cy="369.4" r="3.1" fill="#d8d8d8" stroke="#7a7a7a" fill-opacity="0.7" stroke-opacity="0.7"/>
<circle cx="288.8" cy="369.4" r="3.1" fill="#d8d8d8" stroke="#7a7a7a" fill-opacity="0.7" stroke-opacity="0.7"/>
<circle cx="296.3" cy="370" r="3.1" fill="#d8d8d8" stroke="#7a7a7a" fill-opacity="0.7" stroke-opacity="0.7"/>
<circle cx="302.5" cy="370" r="3.1" fill="#d8d8d8" stroke="#7a7a7a" fill-opacity="0.7" stroke-opacity="0.7"/>
<circle cx="309.4" cy="370" r="3.1" fill="#d8d8d8" stroke="#7a7a7a" fill-opacity="0.7" stroke-opacity="0.7"/>
<circle cx="317.5" cy="371.3" r="3.1" fill="#d8d8d8" stroke="#7a7a7a" fill-opacity="0.7" stroke-opacity="0.7"/>
<circle cx="273.1" cy="374.4" r="3.1" fill="#d8d8d8" stroke="#7a7a7a" fill-opacity="0.7" stroke-opacity="0.7"/>
<circle cx="280" cy="373.1" r="3.1" fill="#d8d8d8" stroke="#7a7a7a" fill-opacity="0.7" stroke-opacity="0.7"/>
<circle cx="286.3" cy="373.8" r="3.1" fill="#d8d8d8" stroke="#7a7a7a" fill-opacity="0.7" stroke-opacity="0.7"/>
<circle cx="292.5" cy="375" r="3.1" fill="#d8d8d8" stroke="#7a7a7a" fill-opacity="0.7" stroke-opacity="0.7"/>
<circle cx="297.5" cy="373.8" r="3.1" fill="#d8d8d8" stroke="#7a7a7a" fill-opacity="0.7" stroke-opacity="0.7"/>
<circle cx="301.9" cy="373.1" r="3.1" fill="#d8d8d8" stroke="#7a7a7a" fill-opacity="0.7" stroke-opacity="0.7"/>
<circle cx="307.5" cy="373.8" r="3.1" fill="#d8d8d8" stroke="#7a7a7a" fill-opacity="0.7" stroke-opacity="0.7"/>
<circle cx="282.5" cy="377.5" r="3.1" fill="#d8d8d8" stroke="#7a7a7a" fill-opacity="0.7" stroke-opacity="0.7"/>
<circle cx="293.8" cy="378.8" r="3.1" fill="#d8d8d8" stroke="#7a7a7a" fill-opacity="0.7" stroke-opacity="0.7"/>
<circle cx="299.4" cy="380" r="3.1" fill="#d8d8d8" stroke="#7a7a7a" fill-opacity="0.7" stroke-opacity="0.7"/>
<circle cx="306.3" cy="378.1" r="3.1" fill="#d8d8d8" stroke="#7a7a7a" fill-opacity="0.7" stroke-opacity="0.7"/>
<circle cx="296.3" cy="379.4" r="3.1" fill="#d8d8d8" stroke="#7a7a7a" fill-opacity="0.7" stroke-opacity="0.7"/>
<circle cx="323.5" cy="336.3" r="3.1" fill="#d8d8d8" stroke="#7a7a7a" fill-opacity="0.7" stroke-opacity="0.7"/>
<circle cx="328.8" cy="338.4" r="3.1" fill="#d8d8d8" stroke="#7a7a7a" fill-opacity="0.7" stroke-opacity="0.7"/>
<circle cx="333.6" cy="336.3" r="3.1" fill="#d8d8d8" stroke="#7a7a7a" fill-opacity="0.7" stroke-opacity="0.7"/>
<circle cx="339.6" cy="337.7" r="3.1" fill="#d8d8d8" stroke="#7a7a7a" fill-opacity="0.7" stroke-opacity="0.7"/>
<circle cx="320.8" cy="341.1" r="3.1" fill="#d8d8d8" stroke="#7a7a7a" fill-opacity="0.7" stroke-opacity="0.7"/>
<circle cx="326.2" cy="344.4" r="3.1" fill="#d8d8d8" stroke="#7a7a7a" fill-opacity="0.7" stroke-opacity="0.7"/>
<circle cx="331.5" cy="343.1" r="3.1" fill="#d8d8d8" stroke="#7a7a7a" fill-opacity="0.7" stroke-opacity="0.7"/>
<circle cx="334.9" cy="344.4" r="3.1" fill="#d8d8d8" stroke="#7a7a7a" fill-opacity="0.7" stroke-opacity="0.7"/>
<circle cx="322.8" cy="352.5" r="3.1" fill="#d8d8d8" stroke="#7a7a7a" fill-opacity="0.7" stroke-opacity="0.7"/>
<circle cx="331.5" cy="347.8" r="3.1" fill="#d8d8d8" stroke="#7a7a7a" fill-opacity="0.7" stroke-opacity="0.7"/>
<circle cx="335.6" cy="350.5" r="3.1" fill="#d8d8d8" stroke="#7a7a7a" fill-opacity="0.7" stroke-opacity="0.7"/>
<circle cx="340.3" cy="349.8" r="3.1" fill="#d8d8d8" stroke="#7a7a7a" fill-opacity="0.7" stroke-opacity="0.7"/>
<circle cx="321.4" cy="359.2" r="3.1" fill="#d8d8d8" stroke="#7a7a7a" fill-opacity="0.7" stroke-opacity="0.7"/>
<circle cx="328.8" cy="355.2" r="3.1" fill="#d8d8d8" stroke="#7a7a7a" fill-opacity="0.7" stroke-opacity="0.7"/>
<circle cx="330.2" cy="358.6" r="3.1" fill="#d8d8d8" stroke="#7a7a7a" fill-opacity="0.7" stroke-opacity="0.7"/>
<circle cx="333.6" cy="359.9" r="3.1" fill="#d8d8d8" stroke="#7a7a7a" fill-opacity="0.7" stroke-opacity="0.7"/>
<circle cx="345" cy="359.2" r="3.1" fill="#d8d8d8" stroke="#7a7a7a" fill-opacity="0.7" stroke-opacity="0.7"/>
<circle cx="320.8" cy="366.6" r="3.1" fill="#d8d8d8" stroke="#7a7a7a" fill-opacity="0.7" stroke-opacity="0.7"/>
<circle cx="328.8" cy="363.9" r="3.1" fill="#d8d8d8" stroke="#7a7a7a" fill-opacity="0.7" stroke-opacity="0.7"/>
<circle cx="334.9" cy="364.6" r="3.1" fill="#d8d8d8" stroke="#7a7a7a" fill-opacity="0.7" stroke-opacity="0.7"/>
<circle cx="338.9" cy="364.9" r="3.1" fill="#d8d8d8" stroke="#7a7a7a" fill-opacity="0.7" stroke-opacity="0.7"/>
<circle cx="320.1" cy="372" r="3.1" fill="#d8d8d8" stroke="#7a7a7a" fill-opacity="0.7" stroke-opacity="0.7"/>
<circle cx="312.7" cy="366" r="3.1" fill="#d8d8d8" stroke="#7a7a7a" fill-opacity="0.7" stroke-opacity="0.7"/>
<circle cx="228.5" cy="252.9" r="3.1" fill="#d8d8d8" stroke="#7a7a7a" fill-opacity="0.7" stroke-opacity="0.7"/>
<circle cx="218.1" cy="274.8" r="3.1" fill="#d8d8d8" stroke="#7a7a7a" fill-opacity="0.7" stroke-opacity="0.7"/>
<circle cx="225.6" cy="271.3" r="3.1" fill="#d8d8d8" stroke="#7a7a7a" fill-opacity="0.7" stroke-opacity="0.7"/>
<circle cx="229" cy="276" r="3.1" fill="#d8d8d8" stroke="#7a7a7a" fill-opacity="0.7" stroke-opacity="0.7"/>
<circle cx="226.2" cy="282.9" r="3.1" fill="#d8d8d8" stroke="#7a7a7a" fill-opacity="0.7" stroke-opacity="0.7"/>
<circle cx="222.1" cy="289.2" r="3.1" fill="#d8d8d8" stroke="#7a7a7a" fill-opacity="0.7" stroke-opacity="0.7"/>
<circle cx="225.6" cy="288.1" r="3.1" fill="#d8d8d8" stroke="#7a7a7a" fill-opacity="0.7" stroke-opacity="0.7"/>
<circle cx="379.9" cy="313.5" r="3.1" fill="#d8d8d8" stroke="#7a7a7a" fill-opacity="0.7" stroke-opacity="0.7"/>
<circle cx="370.8" cy="324.2" r="3.1" fill="#d8d8d8" stroke="#7a7a7a" fill-opacity="0.7" stroke-opacity="0.7"/>
<circle cx="401.5" cy="320.4" r="3.1" fill="#d8d8d8" stroke="#7a7a7a" fill-opacity="0.7" stroke-opacity="0.7"/>
<circle cx="424.2" cy="331.9" r="3.1" fill="#d8d8d8" stroke="#7a7a7a" fill-opacity="0.7" stroke-opacity="0.7"/>
<circle cx="277.9" cy="343.8" r="3.1" fill="#d8d8d8" stroke="#7a7a7a" fill-opacity="0.7" stroke-opacity="0.7"/>
<circle cx="283.2" cy="343.8" r="3.1" fill="#d8d8d8" stroke="#7a7a7a" fill-opacity="0.7" stroke-opacity="0.7"/>
<circle cx="290.4" cy="344.3" r="3.1" fill="#d8d8d8" stroke="#7a7a7a" fill-opacity="0.7" stroke-opacity="0.7"/>
<circle cx="293.8" cy="348.2" r="3.1" fill="#d8d8d8" stroke="#7a7a7a" fill-opacity="0.7" stroke-opacity="0.7"/>
<circle cx="288.5" cy="350.1" r="3.1" fill="#d8d8d8" stroke="#7a7a7a" fill-opacity="0.7" stroke-opacity="0.7"/>
<circle cx="280.8" cy="349.1" r="3.1" fill="#d8d8d8" stroke="#7a7a7a" fill-opacity="0.7" stroke-opacity="0.7"/>
<circle cx="276.9" cy="351.5" r="3.1" fill="#d8d8d8" stroke="#7a7a7a" fill-opacity="0.7" stroke-opacity="0.7"/>
<circle cx="284.6" cy="352.5" r="3.1" fill="#d8d8d8" stroke="#7a7a7a" fill-opacity="0.7" stroke-opacity="0.7"/>
<circle cx="278.8" cy="354.9" r="3.1" fill="#d8d8d8" stroke="#7a7a7a" fill-opacity="0.7" stroke-opacity="0.7"/>
<circle cx="291.8" cy="358.8" r="3.1" fill="#d8d8d8" stroke="#7a7a7a" fill-opacity="0.7" stroke-opacity="0.7"/>
<circle cx="285.6" cy="358.8" r="3.1" fill="#d8d8d8" stroke="#7a7a7a" fill-opacity="0.7" stroke-opacity="0.7"/>
<circle cx="276.9" cy="360.2" r="3.1" fill="#d8d8d8" stroke="#7a7a7a" fill-opacity="0.7" stroke-opacity="0.7"/>
<circle cx="294.2" cy="354.4" r="3.1" fill="#d8d8d8" stroke="#7a7a7a" fill-opacity="0.7" stroke-opacity="0.7"/>
<circle cx="289" cy="365" r="3.1" fill="#d8d8d8" stroke="#7a7a7a" fill-opacity="0.7" stroke-opacity="0.7"/>
<circle cx="282.7" cy="367.9" r="3.1" fill="#d8d8d8" stroke="#7a7a7a" fill-opacity="0.7" stroke-opacity="0.7"/>
<circle cx="276.9" cy="367.9" r="3.1" fill="#d8d8d8" stroke="#7a7a7a" fill-opacity="0.7" stroke-opacity="0.7"/>
<circle cx="296.6" cy="369.8" r="3.1" fill="#d8d8d8" stroke="#7a7a7a" fill-opacity="0.7" stroke-opacity="0.7"/>
<circle cx="291.8" cy="369.8" r="3.1" fill="#d8d8d8" stroke="#7a7a7a" fill-opacity="0.7" stroke-opacity="0.7"/>
<circle cx="287.5" cy="368.8" r="3.1" fill="#d8d8d8" stroke="#7a7a7a" fill-opacity="0.7" stroke-opacity="0.7"/>
<circle cx="282.7" cy="377.5" r="3.1" fill="#d8d8d8" stroke="#7a7a7a" fill-opacity="0.7" stroke-opacity="0.7"/>
<circle cx="277.9" cy="373.7" r="3.1" fill="#d8d8d8" stroke="#7a7a7a" fill-opacity="0.7" stroke-opacity="0.7"/>
<circle cx="293.3" cy="376.5" r="3.1" fill="#d8d8d8" stroke="#7a7a7a" fill-opacity="0.7" stroke-opacity="0.7"/>
<circle cx="299" cy="379.4" r="3.1" fill="#d8d8d8" stroke="#7a7a7a" fill-opacity="0.7" stroke-opacity="0.7"/>
<circle cx="295.7" cy="378.5" r="3.1" fill="#d8d8d8" stroke="#7a7a7a" fill-opacity="0.7" stroke-opacity="0.7"/>
<circle cx="290.4" cy="372.7" r="3.1" fill="#d8d8d8" stroke="#7a7a7a" fill-opacity="0.7" stroke-opacity="0.7"/>
<circle cx="309.6" cy="341.4" r="3.1" fill="#d8d8d8" stroke="#7a7a7a" fill-opacity="0.7" stroke-opacity="0.7"/>
<circle cx="315.4" cy="342.9" r="3.1" fill="#d8d8d8" stroke="#7a7a7a" fill-opacity="0.7" stroke-opacity="0.7"/>
<circle cx="320.2" cy="341.9" r="3.1" fill="#d8d8d8" stroke="#7a7a7a" fill-opacity="0.7" stroke-opacity="0.7"/>
<circle cx="311.5" cy="345.8" r="3.1" fill="#d8d8d8" stroke="#7a7a7a" fill-opacity="0.7" stroke-opacity="0.7"/>
<circle cx="317.3" cy="347.2" r="3.1" fill="#d8d8d8" stroke="#7a7a7a" fill-opacity="0.7" stroke-opacity="0.7"/>
<circle cx="323.1" cy="345.8" r="3.1" fill="#d8d8d8" stroke="#7a7a7a" fill-opacity="0.7" stroke-opacity="0.7"/>
<circle cx="307.7" cy="350.6" r="3.1" fill="#d8d8d8" stroke="#7a7a7a" fill-opacity="0.7" stroke-opacity="0.7"/>
<circle cx="313.5" cy="350.6" r="3.1" fill="#d8d8d8" stroke="#7a7a7a" fill-opacity="0.7" stroke-opacity="0.7"/>
<circle cx="320.2" cy="351.5" r="3.1" fill="#d8d8d8" stroke="#7a7a7a" fill-opacity="0.7" stroke-opacity="0.7"/>
<circle cx="304.8" cy="356.3" r="3.1" fill="#d8d8d8" stroke="#7a7a7a" fill-opacity="0.7" stroke-opacity="0.7"/>
<circle cx="309.6" cy="356.8" r="3.1" fill="#d8d8d8" stroke="#7a7a7a" fill-opacity="0.7" stroke-opacity="0.7"/>
<circle cx="314.4" cy="357.8" r="3.1" fill="#d8d8d8" stroke="#7a7a7a" fill-opacity="0.7" stroke-opacity="0.7"/>
<circle cx="321.2" cy="356.3" r="3.1" fill="#d8d8d8" stroke="#7a7a7a" fill-opacity="0.7" stroke-opacity="0.7"/>
<circle cx="305.3" cy="361.6" r="3.1" fill="#d8d8d8" stroke="#7a7a7a" fill-opacity="0.7" stroke-opacity="0.7"/>
<circle cx="311.5" cy="360.7" r="3.1" fill="#d8d8d8" stroke="#7a7a7a" fill-opacity="0.7" stroke-opacity="0.7"/>
<circle cx="317.3" cy="362.6" r="3.1" fill="#d8d8d8" stroke="#7a7a7a" fill-opacity="0.7" stroke-opacity="0.7"/>
<circle cx="322.1" cy="360.2" r="3.1" fill="#d8d8d8" stroke="#7a7a7a" fill-opacity="0.7" stroke-opacity="0.7"/>
<circle cx="302.9" cy="366.9" r="3.1" fill="#d8d8d8" stroke="#7a7a7a" fill-opacity="0.7" stroke-opacity="0.7"/>
<circle cx="307.2" cy="366" r="3.1" fill="#d8d8d8" stroke="#7a7a7a" fill-opacity="0.7" stroke-opacity="0.7"/>
<circle cx="312" cy="365.5" r="3.1" fill="#d8d8d8" stroke="#7a7a7a" fill-opacity="0.7" stroke-opacity="0.7"/>
<circle cx="319.2" cy="366.4" r="3.1" fill="#d8d8d8" stroke="#7a7a7a" fill-opacity="0.7" stroke-opacity="0.7"/>
<circle cx="301.4" cy="370.8" r="3.1" fill="#d8d8d8" stroke="#7a7a7a" fill-opacity="0.7" stroke-opacity="0.7"/>
<circle cx="309.6" cy="370.8" r="3.1" fill="#d8d8d8" stroke="#7a7a7a" fill-opacity="0.7" stroke-opacity="0.7"/>
<circle cx="315.4" cy="367.9" r="3.1" fill="#d8d8d8" stroke="#7a7a7a" fill-opacity="0.7" stroke-opacity="0.7"/>
<circle cx="320.2" cy="371.7" r="3.1" fill="#d8d8d8" stroke="#7a7a7a" fill-opacity="0.7" stroke-opacity="0.7"/>
<circle cx="303.8" cy="377" r="3.1" fill="#d8d8d8" stroke="#7a7a7a" fill-opacity="0.7" stroke-opacity="0.7"/>
<circle cx="307.7" cy="374.6" r="3.1" fill="#d8d8d8" stroke="#7a7a7a" fill-opacity="0.7" stroke-opacity="0.7"/>
<circle cx="299" cy="379.9" r="3.1" fill="#d8d8d8" stroke="#7a7a7a" fill-opacity="0.7" stroke-opacity="0.7"/>
<circle cx="296.2" cy="378" r="3.1" fill="#d8d8d8" stroke="#7a7a7a" fill-opacity="0.7" stroke-opacity="0.7"/>
<circle cx="337.7" cy="323.2" r="3.1" fill="#d8d8d8" stroke="#7a7a7a" fill-opacity="0.7" stroke-opacity="0.7"/>
<circle cx="320.7" cy="322.6" r="3.1" fill="#d8d8d8" stroke="#7a7a7a" fill-opacity="0.7" stroke-opacity="0.7"/>
<circle cx="322" cy="325.3" r="3.1" fill="#d8d8d8" stroke="#7a7a7a" fill-opacity="0.7" stroke-opacity="0.7"/>
<circle cx="339.2" cy="327.6" r="3.1" fill="#d8d8d8" stroke="#7a7a7a" fill-opacity="0.7" stroke-opacity="0.7"/>
<circle cx="332.4" cy="325.2" r="3.1" fill="#d8d8d8" stroke="#7a7a7a" fill-opacity="0.7" stroke-opacity="0.7"/>
<circle cx="333.1" cy="329.2" r="3.1" fill="#d8d8d8" stroke="#7a7a7a" fill-opacity="0.7" stroke-opacity="0.7"/>
<circle cx="326.3" cy="328" r="3.1" fill="#d8d8d8" stroke="#7a7a7a" fill-opacity="0.7" stroke-opacity="0.7"/>
<circle cx="317.7" cy="328.8" r="3.1" fill="#d8d8d8" stroke="#7a7a7a" fill-opacity="0.7" stroke-opacity="0.7"/>
<circle cx="307.3" cy="333.4" r="3.1" fill="#d8d8d8" stroke="#7a7a7a" fill-opacity="0.7" stroke-opacity="0.7"/>
<circle cx="332.6" cy="331.6" r="3.1" fill="#d8d8d8" stroke="#7a7a7a" fill-opacity="0.7" stroke-opacity="0.7"/>
<circle cx="308.7" cy="338.4" r="3.1" fill="#d8d8d8" stroke="#7a7a7a" fill-opacity="0.7" stroke-opacity="0.7"/>
<circle cx="336.9" cy="337.7" r="3.1" fill="#d8d8d8" stroke="#7a7a7a" fill-opacity="0.7" stroke-opacity="0.7"/>
<circle cx="331.2" cy="339.4" r="3.1" fill="#d8d8d8" stroke="#7a7a7a" fill-opacity="0.7" stroke-opacity="0.7"/>
<circle cx="308.7" cy="342.8" r="3.1" fill="#d8d8d8" stroke="#7a7a7a" fill-opacity="0.7" stroke-opacity="0.7"/>
<circle cx="329.5" cy="343.1" r="3.1" fill="#d8d8d8" stroke="#7a7a7a" fill-opacity="0.7" stroke-opacity="0.7"/>
<circle cx="262" cy="320.5" r="3.1" fill="#d8d8d8" stroke="#7a7a7a" fill-opacity="0.7" stroke-opacity="0.7"/>
<circle cx="266.6" cy="322.5" r="3.1" fill="#d8d8d8" stroke="#7a7a7a" fill-opacity="0.7" stroke-opacity="0.7"/>
<circle cx="280.9" cy="325.1" r="3.1" fill="#d8d8d8" stroke="#7a7a7a" fill-opacity="0.7" stroke-opacity="0.7"/>
<circle cx="263.1" cy="327.3" r="3.1" fill="#d8d8d8" stroke="#7a7a7a" fill-opacity="0.7" stroke-opacity="0.7"/>
<circle cx="276.9" cy="338.5" r="3.1" fill="#d8d8d8" stroke="#7a7a7a" fill-opacity="0.7" stroke-opacity="0.7"/>
<circle cx="271.3" cy="337.3" r="3.1" fill="#d8d8d8" stroke="#7a7a7a" fill-opacity="0.7" stroke-opacity="0.7"/>
<circle cx="253.8" cy="341.4" r="3.1" fill="#d8d8d8" stroke="#7a7a7a" fill-opacity="0.7" stroke-opacity="0.7"/>
<circle cx="260.5" cy="338.7" r="3.1" fill="#d8d8d8" stroke="#7a7a7a" fill-opacity="0.7" stroke-opacity="0.7"/>
<circle cx="273.3" cy="341.1" r="3.1" fill="#d8d8d8" stroke="#7a7a7a" fill-opacity="0.7" stroke-opacity="0.7"/>
<circle cx="246.6" cy="341.4" r="3.1" fill="#d8d8d8" stroke="#7a7a7a" fill-opacity="0.7" stroke-opacity="0.7"/>
<circle cx="288.9" cy="340.6" r="3.1" fill="#d8d8d8" stroke="#7a7a7a" fill-opacity="0.7" stroke-opacity="0.7"/>
<circle cx="254.6" cy="341.6" r="3.1" fill="#d8d8d8" stroke="#7a7a7a" fill-opacity="0.7" stroke-opacity="0.7"/>
<circle cx="265.9" cy="348.5" r="3.1" fill="#d8d8d8" stroke="#7a7a7a" fill-opacity="0.7" stroke-opacity="0.7"/>
<circle cx="271.7" cy="337.7" r="3.1" fill="#d8d8d8" stroke="#7a7a7a" fill-opacity="0.7" stroke-opacity="0.7"/>
<circle cx="288.2" cy="334.2" r="3.1" fill="#d8d8d8" stroke="#7a7a7a" fill-opacity="0.7" stroke-opacity="0.7"/>
<circle cx="309.6" cy="333.7" r="3.1" fill="#d8d8d8" stroke="#7a7a7a" fill-opacity="0.7" stroke-opacity="0.7"/>
<circle cx="314.9" cy="338.5" r="3.1" fill="#d8d8d8" stroke="#7a7a7a" fill-opacity="0.7" stroke-opacity="0.7"/>
<circle cx="260.4" cy="341.7" r="3.1" fill="#d8d8d8" stroke="#7a7a7a" fill-opacity="0.7" stroke-opacity="0.7"/>
<circle cx="267.3" cy="341.8" r="3.1" fill="#d8d8d8" stroke="#7a7a7a" fill-opacity="0.7" stroke-opacity="0.7"/>
<circle cx="288.6" cy="342.7" r="3.1" fill="#d8d8d8" stroke="#7a7a7a" fill-opacity="0.7" stroke-opacity="0.7"/>
<circle cx="311.3" cy="345.8" r="3.1" fill="#d8d8d8" stroke="#7a7a7a" fill-opacity="0.7" stroke-opacity="0.7"/>
<circle cx="284.6" cy="349.5" r="3.1" fill="#d8d8d8" stroke="#7a7a7a" fill-opacity="0.7" stroke-opacity="0.7"/>
<circle cx="314.3" cy="353.1" r="3.1" fill="#d8d8d8" stroke="#7a7a7a" fill-opacity="0.7" stroke-opacity="0.7"/>
<circle cx="265.7" cy="357.1" r="3.1" fill="#d8d8d8" stroke="#7a7a7a" fill-opacity="0.7" stroke-opacity="0.7"/>
<circle cx="293.2" cy="351.7" r="3.1" fill="#d8d8d8" stroke="#7a7a7a" fill-opacity="0.7" stroke-opacity="0.7"/>
<circle cx="307.3" cy="353.5" r="3.1" fill="#d8d8d8" stroke="#7a7a7a" fill-opacity="0.7" stroke-opacity="0.7"/>
<circle cx="312.4" cy="356.2" r="3.1" fill="#d8d8d8" stroke="#7a7a7a" fill-opacity="0.7" stroke-opacity="0.7"/>
<circle cx="318" cy="357.3" r="3.1" fill="#d8d8d8" stroke="#7a7a7a" fill-opacity="0.7" stroke-opacity="0.7"/>
<circle cx="267" cy="360.9" r="3.1" fill="#d8d8d8" stroke="#7a7a7a" fill-opacity="0.7" stroke-opacity="0.7"/>
<circle cx="272.4" cy="361.6" r="3.1" fill="#d8d8d8" stroke="#7a7a7a" fill-opacity="0.7" stroke-opacity="0.7"/>
<circle cx="294.8" cy="359.1" r="3.1" fill="#d8d8d8" stroke="#7a7a7a" fill-opacity="0.7" stroke-opacity="0.7"/>
<circle cx="311.7" cy="362" r="3.1" fill="#d8d8d8" stroke="#7a7a7a" fill-opacity="0.7" stroke-opacity="0.7"/>
<circle cx="274.2" cy="366.8" r="3.1" fill="#d8d8d8" stroke="#7a7a7a" fill-opacity="0.7" stroke-opacity="0.7"/>
<circle cx="295.6" cy="368.1" r="3.1" fill="#d8d8d8" stroke="#7a7a7a" fill-opacity="0.7" stroke-opacity="0.7"/>
<circle cx="316.4" cy="367.3" r="3.1" fill="#d8d8d8" stroke="#7a7a7a" fill-opacity="0.7" stroke-opacity="0.7"/>
<circle cx="279.7" cy="369.5" r="3.1" fill="#d8d8d8" stroke="#7a7a7a" fill-opacity="0.7" stroke-opacity="0.7"/>
<circle cx="297.6" cy="368.4" r="3.1" fill="#d8d8d8" stroke="#7a7a7a" fill-opacity="0.7" stroke-opacity="0.7"/>
<circle cx="308" cy="372.3" r="3.1" fill="#d8d8d8" stroke="#7a7a7a" fill-opacity="0.7" stroke-opacity="0.7"/>
<circle cx="275.4" cy="374.7" r="3.1" fill="#d8d8d8" stroke="#7a7a7a" fill-opacity="0.7" stroke-opacity="0.7"/>
<circle cx="279.7" cy="370.5" r="3.1" fill="#d8d8d8" stroke="#7a7a7a" fill-opacity="0.7" stroke-opacity="0.7"/>
<circle cx="283.2" cy="374.3" r="3.1" fill="#d8d8d8" stroke="#7a7a7a" fill-opacity="0.7" stroke-opacity="0.7"/>
<circle cx="293.6" cy="372.7" r="3.1" fill="#d8d8d8" stroke="#7a7a7a" fill-opacity="0.7" stroke-opacity="0.7"/>
<circle cx="298.8" cy="371.7" r="3.1" fill="#d8d8d8" stroke="#7a7a7a" fill-opacity="0.7" stroke-opacity="0.7"/>
<circle cx="295.2" cy="376.3" r="3.1" fill="#d8d8d8" stroke="#7a7a7a" fill-opacity="0.7" stroke-opacity="0.7"/>
<circle cx="306.2" cy="375.8" r="3.1" fill="#d8d8d8" stroke="#7a7a7a" fill-opacity="0.7" stroke-opacity="0.7"/>
<circle cx="298.9" cy="380.9" r="3.1" fill="#d8d8d8" stroke="#7a7a7a" fill-opacity="0.7" stroke-opacity="0.7"/>
<circle cx="333.7" cy="338.6" r="3.1" fill="#d8d8d8" stroke="#7a7a7a" fill-opacity="0.7" stroke-opacity="0.7"/>
<circle cx="339.3" cy="340.8" r="3.1" fill="#d8d8d8" stroke="#7a7a7a" fill-opacity="0.7" stroke-opacity="0.7"/>
<circle cx="333.8" cy="342.6" r="3.1" fill="#d8d8d8" stroke="#7a7a7a" fill-opacity="0.7" stroke-opacity="0.7"/>
<circle cx="332.3" cy="344.8" r="3.1" fill="#d8d8d8" stroke="#7a7a7a" fill-opacity="0.7" stroke-opacity="0.7"/>
<circle cx="320.8" cy="352.4" r="3.1" fill="#d8d8d8" stroke="#7a7a7a" fill-opacity="0.7" stroke-opacity="0.7"/>
<circle cx="333.6" cy="349.1" r="3.1" fill="#d8d8d8" stroke="#7a7a7a" fill-opacity="0.7" stroke-opacity="0.7"/>
<circle cx="334" cy="348.1" r="3.1" fill="#d8d8d8" stroke="#7a7a7a" fill-opacity="0.7" stroke-opacity="0.7"/>
<circle cx="319.9" cy="362" r="3.1" fill="#d8d8d8" stroke="#7a7a7a" fill-opacity="0.7" stroke-opacity="0.7"/>
<circle cx="331.7" cy="356" r="3.1" fill="#d8d8d8" stroke="#7a7a7a" fill-opacity="0.7" stroke-opacity="0.7"/>
<circle cx="332.3" cy="364.2" r="3.1" fill="#d8d8d8" stroke="#7a7a7a" fill-opacity="0.7" stroke-opacity="0.7"/>
<circle cx="290.6" cy="350.5" r="3.1" fill="#d8d8d8" stroke="#7a7a7a" fill-opacity="0.7" stroke-opacity="0.7"/>
<circle cx="283.2" cy="350.9" r="3.1" fill="#d8d8d8" stroke="#7a7a7a" fill-opacity="0.7" stroke-opacity="0.7"/>
<circle cx="288.6" cy="358.9" r="3.1" fill="#d8d8d8" stroke="#7a7a7a" fill-opacity="0.7" stroke-opacity="0.7"/>
<circle cx="276.7" cy="365.6" r="3.1" fill="#d8d8d8" stroke="#7a7a7a" fill-opacity="0.7" stroke-opacity="0.7"/>
<circle cx="296.3" cy="372.7" r="3.1" fill="#d8d8d8" stroke="#7a7a7a" fill-opacity="0.7" stroke-opacity="0.7"/>
<circle cx="291.6" cy="366.6" r="3.1" fill="#d8d8d8" stroke="#7a7a7a" fill-opacity="0.7" stroke-opacity="0.7"/>
<circle cx="285.6" cy="370.5" r="3.1" fill="#d8d8d8" stroke="#7a7a7a" fill-opacity="0.7" stroke-opacity="0.7"/>
<circle cx="297.1" cy="380.3" r="3.1" fill="#d8d8d8" stroke="#7a7a7a" fill-opacity="0.7" stroke-opacity="0.7"/>
<circle cx="307.8" cy="340.6" r="3.1" fill="#d8d8d8" stroke="#7a7a7a" fill-opacity="0.7" stroke-opacity="0.7"/>
<circle cx="315.1" cy="345.7" r="3.1" fill="#d8d8d8" stroke="#7a7a7a" fill-opacity="0.7" stroke-opacity="0.7"/>
<circle cx="314.8" cy="346.9" r="3.1" fill="#d8d8d8" stroke="#7a7a7a" fill-opacity="0.7" stroke-opacity="0.7"/>
<circle cx="324.1" cy="348.8" r="3.1" fill="#d8d8d8" stroke="#7a7a7a" fill-opacity="0.7" stroke-opacity="0.7"/>
<circle cx="310.6" cy="351.4" r="3.1" fill="#d8d8d8" stroke="#7a7a7a" fill-opacity="0.7" stroke-opacity="0.7"/>
<circle cx="304.5" cy="358.5" r="3.1" fill="#d8d8d8" stroke="#7a7a7a" fill-opacity="0.7" stroke-opacity="0.7"/>
<circle cx="312.5" cy="356.7" r="3.1" fill="#d8d8d8" stroke="#7a7a7a" fill-opacity="0.7" stroke-opacity="0.7"/>
<circle cx="312.6" cy="358.3" r="3.1" fill="#d8d8d8" stroke="#7a7a7a" fill-opacity="0.7" stroke-opacity="0.7"/>
<circle cx="305" cy="365.4" r="3.1" fill="#d8d8d8" stroke="#7a7a7a" fill-opacity="0.7" stroke-opacity="0.7"/>
<circle cx="309.8" cy="366.1" r="3.1" fill="#d8d8d8" stroke="#7a7a7a" fill-opacity="0.7" stroke-opacity="0.7"/>
<circle cx="311.3" cy="367.6" r="3.1" fill="#d8d8d8" stroke="#7a7a7a" fill-opacity="0.7" stroke-opacity="0.7"/>
<circle cx="318" cy="369.2" r="3.1" fill="#d8d8d8" stroke="#7a7a7a" fill-opacity="0.7" stroke-opacity="0.7"/>
<circle cx="301.4" cy="367.8" r="3.1" fill="#d8d8d8" stroke="#7a7a7a" fill-opacity="0.7" stroke-opacity="0.7"/>
<circle cx="312.2" cy="369.5" r="3.1" fill="#d8d8d8" stroke="#7a7a7a" fill-opacity="0.7" stroke-opacity="0.7"/>
<circle cx="318.5" cy="373.5" r="3.1" fill="#d8d8d8" stroke="#7a7a7a" fill-opacity="0.7" stroke-opacity="0.7"/>
<circle cx="296.9" cy="380.9" r="3.1" fill="#d8d8d8" stroke="#7a7a7a" fill-opacity="0.7" stroke-opacity="0.7"/>
<circle cx="298.6" cy="379.8" r="3.1" fill="#d8d8d8" stroke="#7a7a7a" fill-opacity="0.7" stroke-opacity="0.7"/>
<circle cx="121.8" cy="128.5" r="2.75" fill="#cc304d" stroke="#9c2239" fill-opacity="0.92" stroke-opacity="0.92"/>
<circle cx="89.3" cy="170.4" r="2.75" fill="#cc304d" stroke="#9c2239" fill-opacity="0.92" stroke-opacity="0.92"/>
<circle cx="115.8" cy="182.3" r="2.75" fill="#cc304d" stroke="#9c2239" fill-opacity="0.92" stroke-opacity="0.92"/>
<circle cx="210.3" cy="57.3" r="2.75" fill="#cc304d" stroke="#9c2239" fill-opacity="0.92" stroke-opacity="0.92"/>
<circle cx="216" cy="106.3" r="2.75" fill="#cc304d" stroke="#9c2239" fill-opacity="0.92" stroke-opacity="0.92"/>
<circle cx="185.8" cy="117" r="2.75" fill="#cc304d" stroke="#9c2239" fill-opacity="0.92" stroke-opacity="0.92"/>
<circle cx="200.3" cy="135.3" r="2.75" fill="#cc304d" stroke="#9c2239" fill-opacity="0.92" stroke-opacity="0.92"/>
<circle cx="226.8" cy="148.3" r="2.75" fill="#cc304d" stroke="#9c2239" fill-opacity="0.92" stroke-opacity="0.92"/>
<circle cx="210.8" cy="156" r="2.75" fill="#cc304d" stroke="#9c2239" fill-opacity="0.92" stroke-opacity="0.92"/>
<circle cx="210.9" cy="169.5" r="2.75" fill="#cc304d" stroke="#9c2239" fill-opacity="0.92" stroke-opacity="0.92"/>
<circle cx="225.1" cy="173.8" r="2.75" fill="#cc304d" stroke="#9c2239" fill-opacity="0.92" stroke-opacity="0.92"/>
<circle cx="190" cy="181.5" r="2.75" fill="#cc304d" stroke="#9c2239" fill-opacity="0.92" stroke-opacity="0.92"/>
<circle cx="196.5" cy="187.1" r="2.75" fill="#cc304d" stroke="#9c2239" fill-opacity="0.92" stroke-opacity="0.92"/>
<circle cx="221.8" cy="186.9" r="2.75" fill="#cc304d" stroke="#9c2239" fill-opacity="0.92" stroke-opacity="0.92"/>
<circle cx="210.2" cy="192" r="2.75" fill="#cc304d" stroke="#9c2239" fill-opacity="0.92" stroke-opacity="0.92"/>
<circle cx="198.5" cy="195.4" r="2.75" fill="#cc304d" stroke="#9c2239" fill-opacity="0.92" stroke-opacity="0.92"/>
<circle cx="226.2" cy="196.9" r="2.75" fill="#cc304d" stroke="#9c2239" fill-opacity="0.92" stroke-opacity="0.92"/>
<circle cx="161.5" cy="198.9" r="2.75" fill="#cc304d" stroke="#9c2239" fill-opacity="0.92" stroke-opacity="0.92"/>
<circle cx="195.7" cy="203.5" r="2.75" fill="#cc304d" stroke="#9c2239" fill-opacity="0.92" stroke-opacity="0.92"/>
<circle cx="163.8" cy="208.9" r="2.75" fill="#cc304d" stroke="#9c2239" fill-opacity="0.92" stroke-opacity="0.92"/>
<circle cx="219.8" cy="207.1" r="2.75" fill="#cc304d" stroke="#9c2239" fill-opacity="0.92" stroke-opacity="0.92"/>
<circle cx="225.5" cy="211.8" r="2.75" fill="#cc304d" stroke="#9c2239" fill-opacity="0.92" stroke-opacity="0.92"/>
<circle cx="212" cy="213.4" r="2.75" fill="#cc304d" stroke="#9c2239" fill-opacity="0.92" stroke-opacity="0.92"/>
<circle cx="169.5" cy="216.6" r="2.75" fill="#cc304d" stroke="#9c2239" fill-opacity="0.92" stroke-opacity="0.92"/>
<circle cx="194.2" cy="218" r="2.75" fill="#cc304d" stroke="#9c2239" fill-opacity="0.92" stroke-opacity="0.92"/>
<circle cx="208.2" cy="220.2" r="2.75" fill="#cc304d" stroke="#9c2239" fill-opacity="0.92" stroke-opacity="0.92"/>
<circle cx="161.2" cy="223.5" r="2.75" fill="#cc304d" stroke="#9c2239" fill-opacity="0.92" stroke-opacity="0.92"/>
<circle cx="204.5" cy="225.7" r="2.75" fill="#cc304d" stroke="#9c2239" fill-opacity="0.92" stroke-opacity="0.92"/>
<circle cx="214.3" cy="230.3" r="2.75" fill="#cc304d" stroke="#9c2239" fill-opacity="0.92" stroke-opacity="0.92"/>
<circle cx="205.8" cy="232" r="2.75" fill="#cc304d" stroke="#9c2239" fill-opacity="0.92" stroke-opacity="0.92"/>
<circle cx="178.8" cy="232.9" r="2.75" fill="#cc304d" stroke="#9c2239" fill-opacity="0.92" stroke-opacity="0.92"/>
<circle cx="192.2" cy="233.5" r="2.75" fill="#cc304d" stroke="#9c2239" fill-opacity="0.92" stroke-opacity="0.92"/>
<circle cx="188.2" cy="237.7" r="2.75" fill="#cc304d" stroke="#9c2239" fill-opacity="0.92" stroke-opacity="0.92"/>
<circle cx="190.8" cy="239.2" r="2.75" fill="#cc304d" stroke="#9c2239" fill-opacity="0.92" stroke-opacity="0.92"/>
<circle cx="200.8" cy="241" r="2.75" fill="#cc304d" stroke="#9c2239" fill-opacity="0.92" stroke-opacity="0.92"/>
<circle cx="225.8" cy="238.5" r="2.75" fill="#cc304d" stroke="#9c2239" fill-opacity="0.92" stroke-opacity="0.92"/>
<circle cx="175.7" cy="243.5" r="2.75" fill="#cc304d" stroke="#9c2239" fill-opacity="0.92" stroke-opacity="0.92"/>
<circle cx="198.9" cy="246.5" r="2.75" fill="#cc304d" stroke="#9c2239" fill-opacity="0.92" stroke-opacity="0.92"/>
<circle cx="143.2" cy="251.4" r="2.75" fill="#cc304d" stroke="#9c2239" fill-opacity="0.92" stroke-opacity="0.92"/>
<circle cx="227.8" cy="203.8" r="2.85" fill="#c4112f" stroke="#8a0f25" fill-opacity="1" stroke-opacity="1"/>
<circle cx="372.5" cy="138.5" r="2.75" fill="#e8bb52" stroke="#b08a34" fill-opacity="0.95" stroke-opacity="0.95"/>
<circle cx="389" cy="167.2" r="2.75" fill="#e8bb52" stroke="#b08a34" fill-opacity="0.95" stroke-opacity="0.95"/>
<circle cx="433" cy="157" r="2.75" fill="#e8bb52" stroke="#b08a34" fill-opacity="0.95" stroke-opacity="0.95"/>
<circle cx="413.7" cy="184.2" r="2.75" fill="#e8bb52" stroke="#b08a34" fill-opacity="0.95" stroke-opacity="0.95"/>
<circle cx="373.9" cy="192.3" r="2.75" fill="#e8bb52" stroke="#b08a34" fill-opacity="0.95" stroke-opacity="0.95"/>
<circle cx="372.3" cy="238.2" r="2.75" fill="#e8bb52" stroke="#b08a34" fill-opacity="0.95" stroke-opacity="0.95"/>
<circle cx="392.8" cy="236.1" r="2.75" fill="#e8bb52" stroke="#b08a34" fill-opacity="0.95" stroke-opacity="0.95"/>
<circle cx="399.1" cy="233.9" r="2.75" fill="#e8bb52" stroke="#b08a34" fill-opacity="0.95" stroke-opacity="0.95"/>
<circle cx="403.1" cy="238.5" r="2.75" fill="#e8bb52" stroke="#b08a34" fill-opacity="0.95" stroke-opacity="0.95"/>
</g>
<rect x="66.5" y="39" width="441.1" height="359" fill="none" stroke="#000" stroke-width="1.7"/>
<line x1="61.2" y1="46.1" x2="66.5" y2="46.1" stroke="#000" stroke-width="1.7"/>
<text transform="translate(55.9,50.5) scale(0.92,1)" font-size="14.8" text-anchor="end">3.2</text>
<line x1="61.2" y1="129.5" x2="66.5" y2="129.5" stroke="#000" stroke-width="1.7"/>
<text transform="translate(55.9,133.9) scale(0.92,1)" font-size="14.8" text-anchor="end">2.4</text>
<line x1="61.2" y1="212.9" x2="66.5" y2="212.9" stroke="#000" stroke-width="1.7"/>
<text transform="translate(55.9,217.3) scale(0.92,1)" font-size="14.8" text-anchor="end">1.6</text>
<line x1="61.2" y1="296.3" x2="66.5" y2="296.3" stroke="#000" stroke-width="1.7"/>
<text transform="translate(55.9,300.7) scale(0.92,1)" font-size="14.8" text-anchor="end">0.8</text>
<line x1="61.2" y1="379.7" x2="66.5" y2="379.7" stroke="#000" stroke-width="1.7"/>
<text transform="translate(55.9,384.1) scale(0.92,1)" font-size="14.8" text-anchor="end">0.0</text>
<line x1="86" y1="398" x2="86" y2="403.5" stroke="#000" stroke-width="1.7"/>
<text transform="translate(86,420.2) scale(0.92,1)" font-size="14.8" text-anchor="middle">−3.0</text>
<line x1="192.7" y1="398" x2="192.7" y2="403.5" stroke="#000" stroke-width="1.7"/>
<text transform="translate(192.7,420.2) scale(0.92,1)" font-size="14.8" text-anchor="middle">−1.5</text>
<line x1="299.3" y1="398" x2="299.3" y2="403.5" stroke="#000" stroke-width="1.7"/>
<text transform="translate(299.3,420.2) scale(0.92,1)" font-size="14.8" text-anchor="middle">0.0</text>
<line x1="406" y1="398" x2="406" y2="403.5" stroke="#000" stroke-width="1.7"/>
<text transform="translate(406,420.2) scale(0.92,1)" font-size="14.8" text-anchor="middle">1.5</text>
<text x="265.4" y="442.7" font-size="17" textLength="44.6" lengthAdjust="spacingAndGlyphs">Log2 FC</text>
<text transform="translate(27.9,258) rotate(-90)" x="0" y="0" font-size="17" textLength="79.5" lengthAdjust="spacingAndGlyphs">Log10 p-value</text>
<text x="97.8" y="166.5" font-size="8.4" fill="#111" textLength="21.5" lengthAdjust="spacingAndGlyphs">CCL17</text>
<line x1="93" y1="168.3" x2="96.8" y2="166.7" stroke="#333" stroke-width="0.7"/>
<text x="215.7" y="224.9" font-size="8.4" fill="#111" textLength="13.5" lengthAdjust="spacingAndGlyphs">IL13</text>
<line x1="208" y1="231.1" x2="211.5" y2="229.2" stroke="#333" stroke-width="0.7"/>
<text x="161.5" y="255.5" font-size="8.4" fill="#111" textLength="21.9" lengthAdjust="spacingAndGlyphs">CCL22</text>
<line x1="155.4" y1="254.7" x2="159.2" y2="253.5" stroke="#333" stroke-width="0.7"/>
<text x="168.5" y="266.2" font-size="8.4" fill="#111" textLength="30.3" lengthAdjust="spacingAndGlyphs">TNFRSF8</text>
<line x1="186.2" y1="257.6" x2="199.2" y2="243.8" stroke="#333" stroke-width="0.7"/>
<text x="250.9" y="266.2" font-size="8.4" fill="#111" textLength="9" lengthAdjust="spacingAndGlyphs">IL6</text>
<line x1="259.4" y1="270.2" x2="264" y2="275.4" stroke="#333" stroke-width="0.7"/>
<text x="433.5" y="257.2" font-size="8.4" fill="#111" textLength="22.8" lengthAdjust="spacingAndGlyphs">CD79B</text>
<line x1="426" y1="260.1" x2="431.8" y2="257.8" stroke="#333" stroke-width="0.7"/>
<text x="453.2" y="269.1" font-size="8.4" fill="#111" textLength="18.4" lengthAdjust="spacingAndGlyphs">CD19</text>
<line x1="450.8" y1="272.2" x2="455.5" y2="270.5" stroke="#333" stroke-width="0.7"/>
<text x="478.8" y="268.2" font-size="8.4" fill="#111" textLength="22.9" lengthAdjust="spacingAndGlyphs">MS4A1</text>
<line x1="486.6" y1="276.5" x2="492.3" y2="270.1" stroke="#333" stroke-width="0.7"/>
<text x="393.3" y="287.9" font-size="8.4" fill="#111" textLength="23.9" lengthAdjust="spacingAndGlyphs">CD79A</text>
<line x1="417.2" y1="292.2" x2="419.8" y2="293.7" stroke="#333" stroke-width="0.7"/>
<text x="442.8" y="304.7" font-size="8.4" fill="#111" textLength="18.4" lengthAdjust="spacingAndGlyphs">CD22</text>
<line x1="434.7" y1="293.3" x2="446.3" y2="297.3" stroke="#333" stroke-width="0.7"/>
<text x="12.6" y="478.8" font-size="19.5" font-weight="bold" fill="#000" stroke="#000" stroke-width="0.7" textLength="12.6" lengthAdjust="spacingAndGlyphs">B</text>
<line x1="91.5" y1="751.5" x2="91.5" y2="792.5" stroke="#000" stroke-width="1.4"/><line x1="81.2" y1="751.5" x2="101.8" y2="751.5" stroke="#000" stroke-width="1.4"/><line x1="81.2" y1="792.5" x2="101.8" y2="792.5" stroke="#000" stroke-width="1.4"/><rect x="71.7" y="760.4" width="39.8" height="28.8" fill="#4f5669"/><line x1="71.7" y1="779.6" x2="111.5" y2="779.6" stroke="#000" stroke-width="2"/><circle cx="91.5" cy="751.5" r="3.65" fill="#fff" stroke="#000" stroke-width="1.15"/><circle cx="91.5" cy="760.2" r="3.65" fill="#fff" stroke="#000" stroke-width="1.15"/><circle cx="91.5" cy="779.6" r="3.65" fill="#fff" stroke="#000" stroke-width="1.15"/><circle cx="83.3" cy="789.6" r="3.65" fill="#fff" stroke="#000" stroke-width="1.15"/><circle cx="91.5" cy="792.5" r="3.65" fill="#fff" stroke="#000" stroke-width="1.15"/>
<line x1="141.5" y1="536" x2="141.5" y2="743.5" stroke="#000" stroke-width="1.4"/><line x1="131.2" y1="536" x2="151.8" y2="536" stroke="#000" stroke-width="1.4"/><line x1="131.2" y1="743.5" x2="151.8" y2="743.5" stroke="#000" stroke-width="1.4"/><rect x="121.5" y="579.4" width="40.0" height="58.3" fill="#2e4c7c"/><line x1="121.5" y1="632.1" x2="161.5" y2="632.1" stroke="#000" stroke-width="2"/><circle cx="141.5" cy="536" r="3.65" fill="#fff" stroke="#000" stroke-width="1.15"/><circle cx="141.5" cy="561.7" r="3.65" fill="#fff" stroke="#000" stroke-width="1.15"/><circle cx="141.5" cy="586.9" r="3.65" fill="#fff" stroke="#000" stroke-width="1.15"/><circle cx="133" cy="633.1" r="3.65" fill="#fff" stroke="#000" stroke-width="1.15"/><circle cx="141.5" cy="634.4" r="3.65" fill="#fff" stroke="#000" stroke-width="1.15"/><circle cx="149.9" cy="631.2" r="3.65" fill="#fff" stroke="#000" stroke-width="1.15"/><circle cx="141.5" cy="649.4" r="3.65" fill="#fff" stroke="#000" stroke-width="1.15"/><circle cx="141.5" cy="743.5" r="3.65" fill="#fff" stroke="#000" stroke-width="1.15"/>
<line x1="191.5" y1="711.7" x2="191.5" y2="799.2" stroke="#000" stroke-width="1.4"/><line x1="181.2" y1="711.7" x2="201.8" y2="711.7" stroke="#000" stroke-width="1.4"/><line x1="181.2" y1="799.2" x2="201.8" y2="799.2" stroke="#000" stroke-width="1.4"/><rect x="171.4" y="720.6" width="40.1" height="57.1" fill="#e8bc1e"/><line x1="171.4" y1="755.1" x2="211.5" y2="755.1" stroke="#000" stroke-width="2"/><circle cx="191.5" cy="711.7" r="3.65" fill="#fff" stroke="#000" stroke-width="1.15"/><circle cx="182.9" cy="719.8" r="3.65" fill="#fff" stroke="#000" stroke-width="1.15"/><circle cx="191.5" cy="721.2" r="3.65" fill="#fff" stroke="#000" stroke-width="1.15"/><circle cx="191.5" cy="748.1" r="3.65" fill="#fff" stroke="#000" stroke-width="1.15"/><circle cx="191.5" cy="762.9" r="3.65" fill="#fff" stroke="#000" stroke-width="1.15"/><circle cx="184.3" cy="776.9" r="3.65" fill="#fff" stroke="#000" stroke-width="1.15"/><circle cx="191.5" cy="781.7" r="3.65" fill="#fff" stroke="#000" stroke-width="1.15"/><circle cx="191.5" cy="799.2" r="3.65" fill="#fff" stroke="#000" stroke-width="1.15"/>
<line x1="241.5" y1="514.5" x2="241.5" y2="568" stroke="#000" stroke-width="1.4"/><line x1="231.2" y1="514.5" x2="251.8" y2="514.5" stroke="#000" stroke-width="1.4"/><line x1="231.2" y1="568" x2="251.8" y2="568" stroke="#000" stroke-width="1.4"/><rect x="221.3" y="528.7" width="40.1" height="26.7" fill="#512762"/><line x1="221.3" y1="533.8" x2="261.4" y2="533.8" stroke="#000" stroke-width="2"/><circle cx="241.5" cy="514.5" r="3.65" fill="#fff" stroke="#000" stroke-width="1.15"/><circle cx="234.8" cy="528.5" r="3.65" fill="#fff" stroke="#000" stroke-width="1.15"/><circle cx="241.5" cy="533.8" r="3.65" fill="#fff" stroke="#000" stroke-width="1.15"/><circle cx="241.5" cy="555.9" r="3.65" fill="#fff" stroke="#000" stroke-width="1.15"/><circle cx="241.5" cy="568" r="3.65" fill="#fff" stroke="#000" stroke-width="1.15"/>
<line x1="291.5" y1="590.7" x2="291.5" y2="718.5" stroke="#000" stroke-width="1.4"/><line x1="281.2" y1="590.7" x2="301.8" y2="590.7" stroke="#000" stroke-width="1.4"/><line x1="281.2" y1="718.5" x2="301.8" y2="718.5" stroke="#000" stroke-width="1.4"/><rect x="271.4" y="590.7" width="39.8" height="34.9" fill="#a3002b"/><line x1="271.4" y1="592.4" x2="311.2" y2="592.4" stroke="#000" stroke-width="2"/><circle cx="291.5" cy="554" r="3.65" fill="#fff" stroke="#000" stroke-width="1.15"/><circle cx="282.9" cy="590.4" r="3.65" fill="#fff" stroke="#000" stroke-width="1.15"/><circle cx="291.5" cy="592.7" r="3.65" fill="#fff" stroke="#000" stroke-width="1.15"/><circle cx="291.5" cy="626.1" r="3.65" fill="#fff" stroke="#000" stroke-width="1.15"/><circle cx="291.5" cy="718.5" r="3.65" fill="#fff" stroke="#000" stroke-width="1.15"/>
<rect x="66.95" y="492.1" width="249.7" height="319.4" fill="none" stroke="#000" stroke-width="1.7"/>
<line x1="61.2" y1="558.9" x2="66.5" y2="558.9" stroke="#000" stroke-width="1.6"/>
<text x="36.8" y="562.9" font-size="13.5" textLength="13" lengthAdjust="spacingAndGlyphs">10</text><text x="51.1" y="557.7" font-size="10">3</text>
<line x1="61.2" y1="738.8" x2="66.5" y2="738.8" stroke="#000" stroke-width="1.6"/>
<text x="36.8" y="742.8" font-size="13.5" textLength="13" lengthAdjust="spacingAndGlyphs">10</text><text x="51.1" y="737.6" font-size="10">2</text>
<path d="M142.3,506 V504.2 H192.7 V506" fill="none" stroke="#000" stroke-width="1.2"/>
<polygon points="164.50,494.85 165.18,496.67 167.12,496.75 165.59,497.96 166.12,499.82 164.50,498.75 162.88,499.82 163.41,497.96 161.88,496.75 163.82,496.67" fill="#000"/><polygon points="170.40,494.85 171.08,496.67 173.02,496.75 171.49,497.96 172.02,499.82 170.40,498.75 168.78,499.82 169.31,497.96 167.78,496.75 169.72,496.67" fill="#000"/>
<path d="M241,506.8 V504.9 H291.5 V506.8" fill="none" stroke="#000" stroke-width="1.2"/>
<polygon points="266.40,495.95 267.08,497.77 269.02,497.85 267.49,499.06 268.02,500.92 266.40,499.85 264.78,500.92 265.31,499.06 263.78,497.85 265.72,497.77" fill="#000"/>
<line x1="91.6" y1="811" x2="91.6" y2="817" stroke="#000" stroke-width="1.6"/>
<line x1="141.5" y1="811" x2="141.5" y2="817" stroke="#000" stroke-width="1.6"/>
<line x1="191.5" y1="811" x2="191.5" y2="817" stroke="#000" stroke-width="1.6"/>
<line x1="241.5" y1="811" x2="241.5" y2="817" stroke="#000" stroke-width="1.6"/>
<line x1="291.5" y1="811" x2="291.5" y2="817" stroke="#000" stroke-width="1.6"/>
<text transform="translate(25.9,730.7) rotate(-90)" x="0" y="0" font-size="16.6" textLength="157.4" lengthAdjust="spacingAndGlyphs">TNFRSF8 (CD30) expression</text>
<text transform="translate(96.5,827) rotate(-45)" x="0" y="0" font-size="14" text-anchor="end" textLength="68.5" lengthAdjust="spacingAndGlyphs">reactive LN</text>
<text transform="translate(146.2,827) rotate(-45)" x="0" y="0" font-size="14" text-anchor="end" textLength="85" lengthAdjust="spacingAndGlyphs">pre-treatment</text>
<text transform="translate(196.5,827) rotate(-45)" x="0" y="0" font-size="14" text-anchor="end" textLength="57" lengthAdjust="spacingAndGlyphs">re-biopsy</text>
<text transform="translate(246.2,827) rotate(-45)" x="0" y="0" font-size="14" text-anchor="end" textLength="85" lengthAdjust="spacingAndGlyphs">pre-treatment</text>
<text transform="translate(296.5,827) rotate(-45)" x="0" y="0" font-size="14" text-anchor="end" textLength="44" lengthAdjust="spacingAndGlyphs">relapse</text>
<text x="342.6" y="479.2" font-size="19.5" font-weight="bold" fill="#000" stroke="#000" stroke-width="0.7">C</text>
<line x1="419.1" y1="512.8" x2="419.1" y2="617" stroke="#000" stroke-width="1.4"/><line x1="407.40000000000003" y1="512.8" x2="430.8" y2="512.8" stroke="#000" stroke-width="1.4"/><line x1="407.40000000000003" y1="617" x2="430.8" y2="617" stroke="#000" stroke-width="1.4"/><rect x="397.6" y="544.3" width="43.4" height="42.7" fill="#6aa9de"/><line x1="397.6" y1="580.4" x2="441" y2="580.4" stroke="#000" stroke-width="2"/><circle cx="419.1" cy="512.8" r="3.65" fill="#fff" stroke="#000" stroke-width="1.15"/><circle cx="411.1" cy="544.3" r="3.65" fill="#fff" stroke="#000" stroke-width="1.15"/><circle cx="419.1" cy="544.3" r="3.65" fill="#fff" stroke="#000" stroke-width="1.15"/><circle cx="411.1" cy="582.6" r="3.65" fill="#fff" stroke="#000" stroke-width="1.15"/><circle cx="419.1" cy="582.6" r="3.65" fill="#fff" stroke="#000" stroke-width="1.15"/><circle cx="424.3" cy="578.6" r="3.65" fill="#fff" stroke="#000" stroke-width="1.15"/><circle cx="419.1" cy="599.8" r="3.65" fill="#fff" stroke="#000" stroke-width="1.15"/><circle cx="419.1" cy="617" r="3.65" fill="#fff" stroke="#000" stroke-width="1.15"/>
<line x1="474" y1="541.7" x2="474" y2="734" stroke="#000" stroke-width="1.4"/><line x1="462.3" y1="541.7" x2="485.7" y2="541.7" stroke="#000" stroke-width="1.4"/><line x1="462.3" y1="734" x2="485.7" y2="734" stroke="#000" stroke-width="1.4"/><rect x="451.7" y="555.6" width="44.5" height="58.1" fill="#da8a15"/><line x1="451.7" y1="576" x2="496.2" y2="576" stroke="#000" stroke-width="2"/><circle cx="474" cy="541.7" r="3.65" fill="#fff" stroke="#000" stroke-width="1.15"/><circle cx="474" cy="550.5" r="3.65" fill="#fff" stroke="#000" stroke-width="1.15"/><circle cx="474" cy="556.7" r="3.65" fill="#fff" stroke="#000" stroke-width="1.15"/><circle cx="474" cy="567.3" r="3.65" fill="#fff" stroke="#000" stroke-width="1.15"/><circle cx="474" cy="586.6" r="3.65" fill="#fff" stroke="#000" stroke-width="1.15"/><circle cx="474" cy="605.6" r="3.65" fill="#fff" stroke="#000" stroke-width="1.15"/><circle cx="474" cy="654.7" r="3.65" fill="#fff" stroke="#000" stroke-width="1.15"/><circle cx="474" cy="734" r="3.65" fill="#fff" stroke="#000" stroke-width="1.15"/>
<rect x="392.5" y="491.2" width="108.5" height="319.5" fill="none" stroke="#000" stroke-width="1.6"/>
<line x1="386.6" y1="602" x2="392" y2="602" stroke="#000" stroke-width="1.6"/>
<text x="362.1" y="606.2" font-size="13.5" textLength="14" lengthAdjust="spacingAndGlyphs">10</text><text x="376.7" y="601.0" font-size="10">2</text>
<line x1="386.6" y1="722.3" x2="392" y2="722.3" stroke="#000" stroke-width="1.6"/>
<text x="362.1" y="726.5" font-size="13.5" textLength="14" lengthAdjust="spacingAndGlyphs">10</text><text x="376.7" y="721.3" font-size="10">1</text>
<path d="M418.7,505.6 V503.8 H469.2 V505.6" fill="none" stroke="#000" stroke-width="1.2"/>
<text x="440.6" y="501.9" font-size="12.6" textLength="11.8" lengthAdjust="spacingAndGlyphs">ns</text>
<line x1="419.1" y1="810.7" x2="419.1" y2="816.3" stroke="#000" stroke-width="1.6"/>
<line x1="474" y1="810.7" x2="474" y2="816.3" stroke="#000" stroke-width="1.6"/>
<text transform="translate(424.1,827) rotate(-45)" x="0" y="0" font-size="14" text-anchor="end" textLength="85" lengthAdjust="spacingAndGlyphs">pre-treatment</text>
<text transform="translate(479,827) rotate(-45)" x="0" y="0" font-size="14" text-anchor="end" textLength="44" lengthAdjust="spacingAndGlyphs">relapse</text>
</svg></body></html>
